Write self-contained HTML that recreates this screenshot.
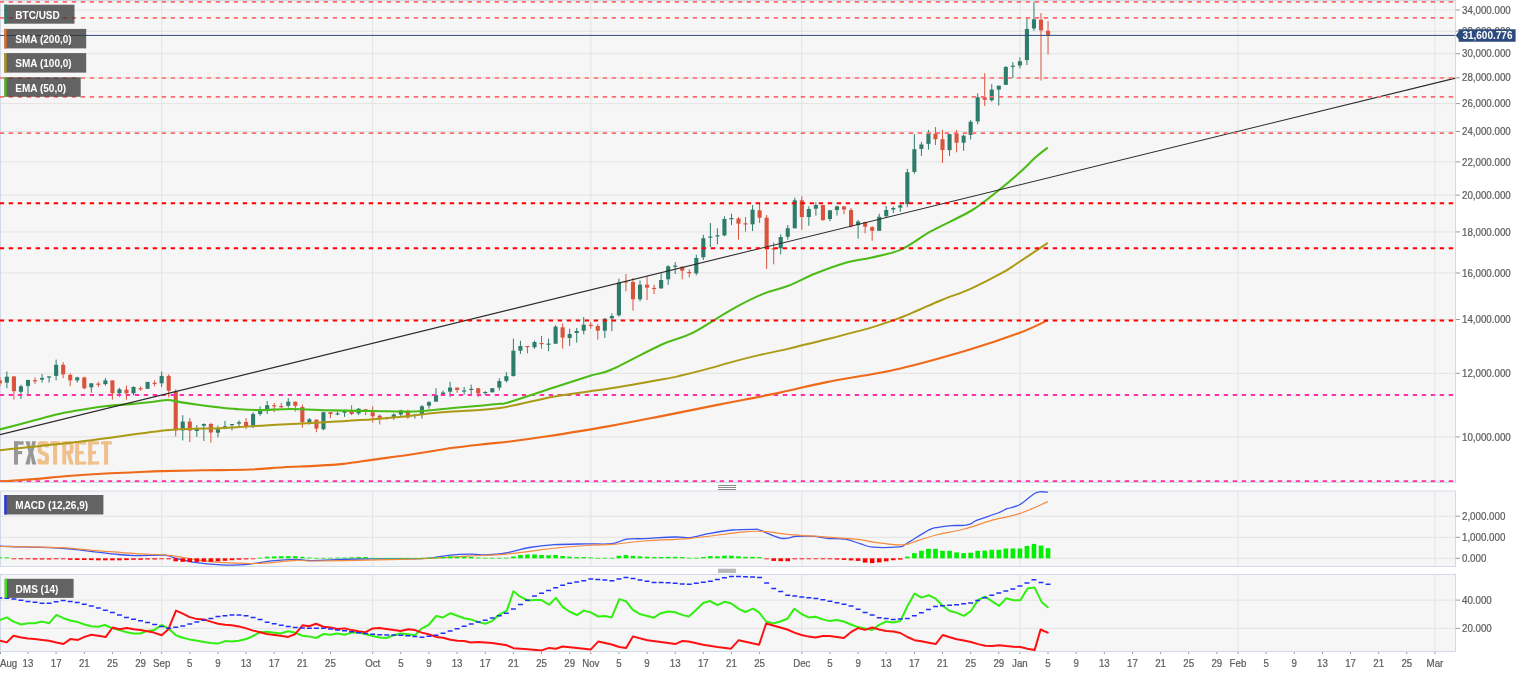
<!DOCTYPE html><html><head><meta charset="utf-8"><style>html,body{margin:0;padding:0;background:#fff;width:1536px;height:675px;overflow:hidden}svg{display:block;will-change:transform}text{font-family:"Liberation Sans", sans-serif}</style></head><body>
<svg width="1536" height="675" viewBox="0 0 1536 675">
<defs>
<clipPath id="cm"><rect x="0" y="0" width="1455.5" height="482"/></clipPath>
<clipPath id="cd"><rect x="0" y="491" width="1455.5" height="75.5"/></clipPath>
<clipPath id="cs"><rect x="0" y="574.5" width="1455.5" height="77"/></clipPath>
</defs>
<rect width="1536" height="675" fill="#fff"/>
<rect x="0.5" y="0.5" width="1455.0" height="482.0" fill="#f6f6f6" stroke="#d3dae7" stroke-width="1"/>
<line x1="161.7" y1="1.0" x2="161.7" y2="482.0" stroke="#e3e3e3" stroke-width="1"/>
<line x1="372.7" y1="1.0" x2="372.7" y2="482.0" stroke="#e3e3e3" stroke-width="1"/>
<line x1="590.8" y1="1.0" x2="590.8" y2="482.0" stroke="#e3e3e3" stroke-width="1"/>
<line x1="801.8" y1="1.0" x2="801.8" y2="482.0" stroke="#e3e3e3" stroke-width="1"/>
<line x1="1019.9" y1="1.0" x2="1019.9" y2="482.0" stroke="#e3e3e3" stroke-width="1"/>
<line x1="1238.0" y1="1.0" x2="1238.0" y2="482.0" stroke="#e3e3e3" stroke-width="1"/>
<line x1="1434.9" y1="1.0" x2="1434.9" y2="482.0" stroke="#e3e3e3" stroke-width="1"/>
<line x1="1" y1="10.0" x2="1455.0" y2="10.0" stroke="#e3e3e3" stroke-width="1"/>
<line x1="1" y1="31.2" x2="1455.0" y2="31.2" stroke="#e3e3e3" stroke-width="1"/>
<line x1="1" y1="53.7" x2="1455.0" y2="53.7" stroke="#e3e3e3" stroke-width="1"/>
<line x1="1" y1="77.8" x2="1455.0" y2="77.8" stroke="#e3e3e3" stroke-width="1"/>
<line x1="1" y1="103.6" x2="1455.0" y2="103.6" stroke="#e3e3e3" stroke-width="1"/>
<line x1="1" y1="131.5" x2="1455.0" y2="131.5" stroke="#e3e3e3" stroke-width="1"/>
<line x1="1" y1="161.9" x2="1455.0" y2="161.9" stroke="#e3e3e3" stroke-width="1"/>
<line x1="1" y1="195.1" x2="1455.0" y2="195.1" stroke="#e3e3e3" stroke-width="1"/>
<line x1="1" y1="231.9" x2="1455.0" y2="231.9" stroke="#e3e3e3" stroke-width="1"/>
<line x1="1" y1="273.0" x2="1455.0" y2="273.0" stroke="#e3e3e3" stroke-width="1"/>
<line x1="1" y1="319.5" x2="1455.0" y2="319.5" stroke="#e3e3e3" stroke-width="1"/>
<line x1="1" y1="373.3" x2="1455.0" y2="373.3" stroke="#e3e3e3" stroke-width="1"/>
<line x1="1" y1="436.9" x2="1455.0" y2="436.9" stroke="#e3e3e3" stroke-width="1"/>
<g clip-path="url(#cm)">
<rect x="14" y="441.3" width="4" height="23.30000000000001" fill="#979797"/>
<rect x="14" y="441.3" width="9.6" height="3.4" fill="#979797"/>
<rect x="14" y="451.0" width="8.2" height="3.2" fill="#979797"/>
<path d="M25.5,441.3 H29.8 L30.9,449.3 L32.0,441.3 H36.1 L33.1,452.6 L36.3,464.6 H32.0 L30.9,456.2 L29.8,464.6 H25.3 L28.6,452.6 Z" fill="#979797"/>
<path d="M46.9,447.6 V444.2 Q46.9,443.3 46.0,443.3 H40.5 Q39.6,443.3 39.6,444.2 V450.6 Q39.6,451.6 40.6,452.1 L46.0,454.6 Q46.9,455.1 46.9,456.1 V461.7 Q46.9,462.6 46.0,462.6 H40.5 Q39.6,462.6 39.6,461.7 V458.8" fill="none" stroke="#f0c08c" stroke-width="4" stroke-linejoin="round"/>
<rect x="50.3" y="441.3" width="10.0" height="3.4" fill="#f0c08c"/>
<rect x="53.1" y="441.3" width="4" height="23.30000000000001" fill="#f0c08c"/>
<rect x="62.3" y="441.3" width="3.9" height="23.30000000000001" fill="#f0c08c"/>
<path d="M64.2,443.2 H69.6 Q71.6,443.2 71.6,445.2 V450.4 Q71.6,452.4 69.6,452.4 H64.2" fill="none" stroke="#f0c08c" stroke-width="3.8"/>
<path d="M66.6,453.6 H70.4 L73.7,464.6 H69.7 Z" fill="#f0c08c"/>
<rect x="75.1" y="441.3" width="4" height="23.30000000000001" fill="#f0c08c"/>
<rect x="75.1" y="441.3" width="11.1" height="3.2" fill="#f0c08c"/>
<rect x="75.1" y="451.1" width="8.6" height="3.1" fill="#f0c08c"/>
<rect x="75.1" y="461.5" width="11.1" height="3.1" fill="#f0c08c"/>
<rect x="88.2" y="441.3" width="4" height="23.30000000000001" fill="#f0c08c"/>
<rect x="88.2" y="441.3" width="10.8" height="3.2" fill="#f0c08c"/>
<rect x="88.2" y="451.1" width="7.8" height="3.1" fill="#f0c08c"/>
<rect x="88.2" y="461.5" width="10.8" height="3.1" fill="#f0c08c"/>
<rect x="101" y="441.3" width="10.9" height="3.2" fill="#f0c08c"/>
<rect x="104.1" y="441.3" width="4" height="23.30000000000001" fill="#f0c08c"/>
<line x1="-0.15" y1="377.0" x2="-0.15" y2="386.0" stroke="#d9543c" stroke-width="1"/>
<rect x="-2.20" y="380.4" width="4.1" height="2.9" fill="#d9543c"/>
<line x1="6.88" y1="371.5" x2="6.88" y2="388.2" stroke="#2e7d6b" stroke-width="1"/>
<rect x="4.83" y="376.7" width="4.1" height="5.9" fill="#2e7d6b"/>
<line x1="13.92" y1="376.4" x2="13.92" y2="399.6" stroke="#d9543c" stroke-width="1"/>
<rect x="11.87" y="376.4" width="4.1" height="14.8" fill="#d9543c"/>
<line x1="20.95" y1="384.8" x2="20.95" y2="398.9" stroke="#2e7d6b" stroke-width="1"/>
<rect x="18.90" y="386.3" width="4.1" height="5.5" fill="#2e7d6b"/>
<line x1="27.99" y1="379.9" x2="27.99" y2="394.1" stroke="#2e7d6b" stroke-width="1"/>
<rect x="25.94" y="379.9" width="4.1" height="6.0" fill="#2e7d6b"/>
<line x1="35.02" y1="377.4" x2="35.02" y2="383.8" stroke="#d9543c" stroke-width="1"/>
<rect x="32.97" y="380.2" width="4.1" height="1.2" fill="#d9543c"/>
<line x1="42.06" y1="374.0" x2="42.06" y2="382.6" stroke="#2e7d6b" stroke-width="1"/>
<rect x="40.01" y="377.9" width="4.1" height="1.7" fill="#2e7d6b"/>
<line x1="49.09" y1="376.4" x2="49.09" y2="382.6" stroke="#2e7d6b" stroke-width="1"/>
<rect x="47.04" y="376.4" width="4.1" height="1.2" fill="#2e7d6b"/>
<line x1="56.13" y1="359.6" x2="56.13" y2="380.4" stroke="#2e7d6b" stroke-width="1"/>
<rect x="54.08" y="364.8" width="4.1" height="11.1" fill="#2e7d6b"/>
<line x1="63.16" y1="362.1" x2="63.16" y2="378.1" stroke="#d9543c" stroke-width="1"/>
<rect x="61.11" y="364.8" width="4.1" height="9.6" fill="#d9543c"/>
<line x1="70.20" y1="373.0" x2="70.20" y2="386.3" stroke="#d9543c" stroke-width="1"/>
<rect x="68.15" y="374.9" width="4.1" height="5.5" fill="#d9543c"/>
<line x1="77.23" y1="376.7" x2="77.23" y2="382.6" stroke="#2e7d6b" stroke-width="1"/>
<rect x="75.18" y="377.4" width="4.1" height="3.0" fill="#2e7d6b"/>
<line x1="84.27" y1="376.7" x2="84.27" y2="389.3" stroke="#d9543c" stroke-width="1"/>
<rect x="82.22" y="377.4" width="4.1" height="10.8" fill="#d9543c"/>
<line x1="91.30" y1="383.3" x2="91.30" y2="392.7" stroke="#2e7d6b" stroke-width="1"/>
<rect x="89.25" y="383.3" width="4.1" height="4.0" fill="#2e7d6b"/>
<line x1="98.34" y1="381.9" x2="98.34" y2="387.0" stroke="#d9543c" stroke-width="1"/>
<rect x="96.29" y="383.6" width="4.1" height="1.2" fill="#d9543c"/>
<line x1="105.37" y1="378.1" x2="105.37" y2="385.6" stroke="#2e7d6b" stroke-width="1"/>
<rect x="103.32" y="380.4" width="4.1" height="3.7" fill="#2e7d6b"/>
<line x1="112.41" y1="380.4" x2="112.41" y2="399.6" stroke="#d9543c" stroke-width="1"/>
<rect x="110.36" y="380.4" width="4.1" height="12.9" fill="#d9543c"/>
<line x1="119.44" y1="387.8" x2="119.44" y2="396.7" stroke="#2e7d6b" stroke-width="1"/>
<rect x="117.39" y="389.3" width="4.1" height="4.0" fill="#2e7d6b"/>
<line x1="126.48" y1="385.6" x2="126.48" y2="399.6" stroke="#d9543c" stroke-width="1"/>
<rect x="124.43" y="389.7" width="4.1" height="3.6" fill="#d9543c"/>
<line x1="133.51" y1="386.3" x2="133.51" y2="395.2" stroke="#2e7d6b" stroke-width="1"/>
<rect x="131.46" y="387.0" width="4.1" height="6.3" fill="#2e7d6b"/>
<line x1="140.55" y1="386.3" x2="140.55" y2="390.7" stroke="#d9543c" stroke-width="1"/>
<rect x="138.50" y="388.2" width="4.1" height="1.2" fill="#d9543c"/>
<line x1="147.58" y1="381.9" x2="147.58" y2="388.8" stroke="#2e7d6b" stroke-width="1"/>
<rect x="145.53" y="381.9" width="4.1" height="6.9" fill="#2e7d6b"/>
<line x1="154.62" y1="380.4" x2="154.62" y2="386.3" stroke="#d9543c" stroke-width="1"/>
<rect x="152.57" y="382.8" width="4.1" height="1.2" fill="#d9543c"/>
<line x1="161.65" y1="371.5" x2="161.65" y2="387.0" stroke="#2e7d6b" stroke-width="1"/>
<rect x="159.60" y="375.9" width="4.1" height="7.4" fill="#2e7d6b"/>
<line x1="168.69" y1="374.4" x2="168.69" y2="397.4" stroke="#d9543c" stroke-width="1"/>
<rect x="166.64" y="375.9" width="4.1" height="14.8" fill="#d9543c"/>
<line x1="175.72" y1="389.3" x2="175.72" y2="436.5" stroke="#d9543c" stroke-width="1"/>
<rect x="173.67" y="391.2" width="4.1" height="39.2" fill="#d9543c"/>
<line x1="182.75" y1="415.2" x2="182.75" y2="440.4" stroke="#2e7d6b" stroke-width="1"/>
<rect x="180.70" y="421.6" width="4.1" height="8.8" fill="#2e7d6b"/>
<line x1="189.79" y1="418.1" x2="189.79" y2="442.1" stroke="#d9543c" stroke-width="1"/>
<rect x="187.74" y="421.6" width="4.1" height="9.0" fill="#d9543c"/>
<line x1="196.82" y1="425.1" x2="196.82" y2="436.8" stroke="#2e7d6b" stroke-width="1"/>
<rect x="194.77" y="428.6" width="4.1" height="2.4" fill="#2e7d6b"/>
<line x1="203.86" y1="423.4" x2="203.86" y2="441.0" stroke="#2e7d6b" stroke-width="1"/>
<rect x="201.81" y="424.0" width="4.1" height="1.7" fill="#2e7d6b"/>
<line x1="210.89" y1="422.8" x2="210.89" y2="442.7" stroke="#d9543c" stroke-width="1"/>
<rect x="208.84" y="424.0" width="4.1" height="8.5" fill="#d9543c"/>
<line x1="217.93" y1="425.7" x2="217.93" y2="437.4" stroke="#2e7d6b" stroke-width="1"/>
<rect x="215.88" y="429.2" width="4.1" height="3.5" fill="#2e7d6b"/>
<line x1="224.96" y1="421.0" x2="224.96" y2="429.2" stroke="#2e7d6b" stroke-width="1"/>
<rect x="222.91" y="426.3" width="4.1" height="2.3" fill="#2e7d6b"/>
<line x1="232.00" y1="424.0" x2="232.00" y2="430.4" stroke="#2e7d6b" stroke-width="1"/>
<rect x="229.95" y="424.0" width="4.1" height="1.2" fill="#2e7d6b"/>
<line x1="239.03" y1="420.4" x2="239.03" y2="426.9" stroke="#2e7d6b" stroke-width="1"/>
<rect x="236.98" y="422.2" width="4.1" height="1.4" fill="#2e7d6b"/>
<line x1="246.07" y1="418.1" x2="246.07" y2="429.2" stroke="#d9543c" stroke-width="1"/>
<rect x="244.02" y="422.0" width="4.1" height="4.3" fill="#d9543c"/>
<line x1="253.10" y1="412.2" x2="253.10" y2="428.0" stroke="#2e7d6b" stroke-width="1"/>
<rect x="251.05" y="414.0" width="4.1" height="11.7" fill="#2e7d6b"/>
<line x1="260.14" y1="406.4" x2="260.14" y2="415.7" stroke="#2e7d6b" stroke-width="1"/>
<rect x="258.09" y="411.0" width="4.1" height="3.0" fill="#2e7d6b"/>
<line x1="267.17" y1="401.1" x2="267.17" y2="414.0" stroke="#2e7d6b" stroke-width="1"/>
<rect x="265.12" y="405.2" width="4.1" height="4.7" fill="#2e7d6b"/>
<line x1="274.21" y1="402.9" x2="274.21" y2="412.2" stroke="#d9543c" stroke-width="1"/>
<rect x="272.16" y="405.2" width="4.1" height="1.2" fill="#d9543c"/>
<line x1="281.24" y1="402.9" x2="281.24" y2="408.1" stroke="#d9543c" stroke-width="1"/>
<rect x="279.19" y="406.0" width="4.1" height="1.2" fill="#d9543c"/>
<line x1="288.28" y1="398.2" x2="288.28" y2="407.5" stroke="#2e7d6b" stroke-width="1"/>
<rect x="286.23" y="401.7" width="4.1" height="4.1" fill="#2e7d6b"/>
<line x1="295.31" y1="401.7" x2="295.31" y2="411.6" stroke="#d9543c" stroke-width="1"/>
<rect x="293.26" y="401.7" width="4.1" height="4.1" fill="#d9543c"/>
<line x1="302.35" y1="404.6" x2="302.35" y2="427.5" stroke="#d9543c" stroke-width="1"/>
<rect x="300.30" y="407.0" width="4.1" height="15.2" fill="#d9543c"/>
<line x1="309.38" y1="418.1" x2="309.38" y2="424.5" stroke="#2e7d6b" stroke-width="1"/>
<rect x="307.33" y="419.3" width="4.1" height="2.9" fill="#2e7d6b"/>
<line x1="316.42" y1="419.6" x2="316.42" y2="432.2" stroke="#d9543c" stroke-width="1"/>
<rect x="314.37" y="419.6" width="4.1" height="9.0" fill="#d9543c"/>
<line x1="323.45" y1="411.6" x2="323.45" y2="430.4" stroke="#2e7d6b" stroke-width="1"/>
<rect x="321.40" y="412.2" width="4.1" height="17.0" fill="#2e7d6b"/>
<line x1="330.49" y1="412.2" x2="330.49" y2="418.0" stroke="#d9543c" stroke-width="1"/>
<rect x="328.44" y="412.2" width="4.1" height="1.8" fill="#d9543c"/>
<line x1="337.52" y1="411.6" x2="337.52" y2="415.2" stroke="#2e7d6b" stroke-width="1"/>
<rect x="335.47" y="413.4" width="4.1" height="1.2" fill="#2e7d6b"/>
<line x1="344.56" y1="409.7" x2="344.56" y2="416.9" stroke="#2e7d6b" stroke-width="1"/>
<rect x="342.51" y="410.4" width="4.1" height="2.4" fill="#2e7d6b"/>
<line x1="351.59" y1="405.2" x2="351.59" y2="415.1" stroke="#d9543c" stroke-width="1"/>
<rect x="349.54" y="410.4" width="4.1" height="3.6" fill="#d9543c"/>
<line x1="358.62" y1="408.1" x2="358.62" y2="415.1" stroke="#2e7d6b" stroke-width="1"/>
<rect x="356.57" y="408.7" width="4.1" height="4.7" fill="#2e7d6b"/>
<line x1="365.66" y1="409.3" x2="365.66" y2="415.1" stroke="#d9543c" stroke-width="1"/>
<rect x="363.61" y="409.3" width="4.1" height="1.2" fill="#d9543c"/>
<line x1="372.69" y1="406.3" x2="372.69" y2="422.7" stroke="#d9543c" stroke-width="1"/>
<rect x="370.64" y="412.2" width="4.1" height="4.1" fill="#d9543c"/>
<line x1="379.73" y1="414.5" x2="379.73" y2="424.5" stroke="#d9543c" stroke-width="1"/>
<rect x="377.68" y="415.7" width="4.1" height="2.3" fill="#d9543c"/>
<line x1="386.76" y1="416.9" x2="386.76" y2="419.8" stroke="#d9543c" stroke-width="1"/>
<rect x="384.71" y="417.6" width="4.1" height="1.2" fill="#d9543c"/>
<line x1="393.80" y1="413.4" x2="393.80" y2="419.8" stroke="#2e7d6b" stroke-width="1"/>
<rect x="391.75" y="414.5" width="4.1" height="2.4" fill="#2e7d6b"/>
<line x1="400.83" y1="409.8" x2="400.83" y2="416.3" stroke="#2e7d6b" stroke-width="1"/>
<rect x="398.78" y="410.4" width="4.1" height="4.1" fill="#2e7d6b"/>
<line x1="407.87" y1="409.8" x2="407.87" y2="418.6" stroke="#d9543c" stroke-width="1"/>
<rect x="405.82" y="411.0" width="4.1" height="6.5" fill="#d9543c"/>
<line x1="414.90" y1="414.5" x2="414.90" y2="418.6" stroke="#2e7d6b" stroke-width="1"/>
<rect x="412.85" y="414.6" width="4.1" height="1.2" fill="#2e7d6b"/>
<line x1="421.94" y1="405.2" x2="421.94" y2="418.6" stroke="#2e7d6b" stroke-width="1"/>
<rect x="419.89" y="406.3" width="4.1" height="8.2" fill="#2e7d6b"/>
<line x1="428.97" y1="401.0" x2="428.97" y2="408.7" stroke="#2e7d6b" stroke-width="1"/>
<rect x="426.92" y="402.2" width="4.1" height="3.5" fill="#2e7d6b"/>
<line x1="436.01" y1="388.2" x2="436.01" y2="401.6" stroke="#2e7d6b" stroke-width="1"/>
<rect x="433.96" y="395.2" width="4.1" height="6.4" fill="#2e7d6b"/>
<line x1="443.04" y1="390.5" x2="443.04" y2="394.0" stroke="#2e7d6b" stroke-width="1"/>
<rect x="440.99" y="392.5" width="4.1" height="1.5" fill="#2e7d6b"/>
<line x1="450.08" y1="381.7" x2="450.08" y2="397.0" stroke="#2e7d6b" stroke-width="1"/>
<rect x="448.03" y="387.6" width="4.1" height="4.1" fill="#2e7d6b"/>
<line x1="457.11" y1="387.6" x2="457.11" y2="392.9" stroke="#d9543c" stroke-width="1"/>
<rect x="455.06" y="387.6" width="4.1" height="2.3" fill="#d9543c"/>
<line x1="464.15" y1="387.0" x2="464.15" y2="394.6" stroke="#2e7d6b" stroke-width="1"/>
<rect x="462.10" y="390.4" width="4.1" height="1.2" fill="#2e7d6b"/>
<line x1="471.18" y1="384.6" x2="471.18" y2="394.0" stroke="#2e7d6b" stroke-width="1"/>
<rect x="469.13" y="388.8" width="4.1" height="1.2" fill="#2e7d6b"/>
<line x1="478.22" y1="388.2" x2="478.22" y2="397.0" stroke="#d9543c" stroke-width="1"/>
<rect x="476.17" y="388.2" width="4.1" height="5.2" fill="#d9543c"/>
<line x1="485.25" y1="391.1" x2="485.25" y2="395.2" stroke="#2e7d6b" stroke-width="1"/>
<rect x="483.20" y="392.0" width="4.1" height="1.2" fill="#2e7d6b"/>
<line x1="492.29" y1="388.2" x2="492.29" y2="392.3" stroke="#2e7d6b" stroke-width="1"/>
<rect x="490.24" y="388.2" width="4.1" height="4.1" fill="#2e7d6b"/>
<line x1="499.32" y1="378.2" x2="499.32" y2="390.5" stroke="#2e7d6b" stroke-width="1"/>
<rect x="497.27" y="381.1" width="4.1" height="6.5" fill="#2e7d6b"/>
<line x1="506.36" y1="372.2" x2="506.36" y2="382.5" stroke="#2e7d6b" stroke-width="1"/>
<rect x="504.31" y="376.2" width="4.1" height="4.7" fill="#2e7d6b"/>
<line x1="513.39" y1="338.7" x2="513.39" y2="376.7" stroke="#2e7d6b" stroke-width="1"/>
<rect x="511.34" y="350.7" width="4.1" height="25.3" fill="#2e7d6b"/>
<line x1="520.43" y1="340.7" x2="520.43" y2="354.0" stroke="#2e7d6b" stroke-width="1"/>
<rect x="518.38" y="346.0" width="4.1" height="4.7" fill="#2e7d6b"/>
<line x1="527.46" y1="346.0" x2="527.46" y2="353.3" stroke="#d9543c" stroke-width="1"/>
<rect x="525.41" y="346.0" width="4.1" height="1.2" fill="#d9543c"/>
<line x1="534.49" y1="340.7" x2="534.49" y2="348.7" stroke="#2e7d6b" stroke-width="1"/>
<rect x="532.44" y="342.0" width="4.1" height="5.3" fill="#2e7d6b"/>
<line x1="541.53" y1="336.0" x2="541.53" y2="348.7" stroke="#d9543c" stroke-width="1"/>
<rect x="539.48" y="343.0" width="4.1" height="1.2" fill="#d9543c"/>
<line x1="548.56" y1="338.7" x2="548.56" y2="351.3" stroke="#2e7d6b" stroke-width="1"/>
<rect x="546.51" y="343.6" width="4.1" height="1.2" fill="#2e7d6b"/>
<line x1="555.60" y1="325.1" x2="555.60" y2="343.7" stroke="#2e7d6b" stroke-width="1"/>
<rect x="553.55" y="326.7" width="4.1" height="17.0" fill="#2e7d6b"/>
<line x1="562.63" y1="323.3" x2="562.63" y2="348.7" stroke="#d9543c" stroke-width="1"/>
<rect x="560.58" y="327.3" width="4.1" height="10.3" fill="#d9543c"/>
<line x1="569.67" y1="328.7" x2="569.67" y2="346.0" stroke="#2e7d6b" stroke-width="1"/>
<rect x="567.62" y="334.0" width="4.1" height="4.0" fill="#2e7d6b"/>
<line x1="576.70" y1="328.0" x2="576.70" y2="342.7" stroke="#2e7d6b" stroke-width="1"/>
<rect x="574.65" y="331.0" width="4.1" height="2.0" fill="#2e7d6b"/>
<line x1="583.74" y1="317.0" x2="583.74" y2="334.4" stroke="#2e7d6b" stroke-width="1"/>
<rect x="581.69" y="324.7" width="4.1" height="6.0" fill="#2e7d6b"/>
<line x1="590.77" y1="322.0" x2="590.77" y2="328.7" stroke="#d9543c" stroke-width="1"/>
<rect x="588.72" y="324.7" width="4.1" height="1.2" fill="#d9543c"/>
<line x1="597.81" y1="324.0" x2="597.81" y2="339.7" stroke="#d9543c" stroke-width="1"/>
<rect x="595.76" y="326.0" width="4.1" height="4.7" fill="#d9543c"/>
<line x1="604.84" y1="318.0" x2="604.84" y2="338.0" stroke="#2e7d6b" stroke-width="1"/>
<rect x="602.79" y="318.7" width="4.1" height="12.0" fill="#2e7d6b"/>
<line x1="611.88" y1="313.3" x2="611.88" y2="331.3" stroke="#2e7d6b" stroke-width="1"/>
<rect x="609.83" y="316.0" width="4.1" height="2.4" fill="#2e7d6b"/>
<line x1="618.91" y1="278.7" x2="618.91" y2="316.7" stroke="#2e7d6b" stroke-width="1"/>
<rect x="616.86" y="282.7" width="4.1" height="32.6" fill="#2e7d6b"/>
<line x1="625.95" y1="274.0" x2="625.95" y2="291.3" stroke="#d9543c" stroke-width="1"/>
<rect x="623.90" y="281.3" width="4.1" height="1.2" fill="#d9543c"/>
<line x1="632.98" y1="278.0" x2="632.98" y2="310.7" stroke="#d9543c" stroke-width="1"/>
<rect x="630.93" y="282.0" width="4.1" height="17.3" fill="#d9543c"/>
<line x1="640.02" y1="280.4" x2="640.02" y2="301.3" stroke="#2e7d6b" stroke-width="1"/>
<rect x="637.97" y="284.7" width="4.1" height="14.6" fill="#2e7d6b"/>
<line x1="647.05" y1="276.7" x2="647.05" y2="300.0" stroke="#d9543c" stroke-width="1"/>
<rect x="645.00" y="284.7" width="4.1" height="2.9" fill="#d9543c"/>
<line x1="654.09" y1="284.7" x2="654.09" y2="294.0" stroke="#d9543c" stroke-width="1"/>
<rect x="652.04" y="287.9" width="4.1" height="1.2" fill="#d9543c"/>
<line x1="661.12" y1="273.3" x2="661.12" y2="288.7" stroke="#2e7d6b" stroke-width="1"/>
<rect x="659.07" y="280.0" width="4.1" height="8.4" fill="#2e7d6b"/>
<line x1="668.16" y1="265.3" x2="668.16" y2="284.7" stroke="#2e7d6b" stroke-width="1"/>
<rect x="666.11" y="266.3" width="4.1" height="13.0" fill="#2e7d6b"/>
<line x1="675.19" y1="262.0" x2="675.19" y2="274.0" stroke="#2e7d6b" stroke-width="1"/>
<rect x="673.14" y="265.6" width="4.1" height="1.2" fill="#2e7d6b"/>
<line x1="682.23" y1="266.7" x2="682.23" y2="279.3" stroke="#d9543c" stroke-width="1"/>
<rect x="680.18" y="266.7" width="4.1" height="4.0" fill="#d9543c"/>
<line x1="689.26" y1="269.3" x2="689.26" y2="277.3" stroke="#d9543c" stroke-width="1"/>
<rect x="687.21" y="272.0" width="4.1" height="1.2" fill="#d9543c"/>
<line x1="696.30" y1="254.7" x2="696.30" y2="275.3" stroke="#2e7d6b" stroke-width="1"/>
<rect x="694.25" y="258.0" width="4.1" height="15.3" fill="#2e7d6b"/>
<line x1="703.33" y1="234.7" x2="703.33" y2="260.0" stroke="#2e7d6b" stroke-width="1"/>
<rect x="701.28" y="238.3" width="4.1" height="19.0" fill="#2e7d6b"/>
<line x1="710.36" y1="223.0" x2="710.36" y2="247.0" stroke="#2e7d6b" stroke-width="1"/>
<rect x="708.31" y="236.5" width="4.1" height="1.2" fill="#2e7d6b"/>
<line x1="717.40" y1="228.3" x2="717.40" y2="244.3" stroke="#2e7d6b" stroke-width="1"/>
<rect x="715.35" y="235.3" width="4.1" height="1.2" fill="#2e7d6b"/>
<line x1="724.43" y1="216.3" x2="724.43" y2="236.3" stroke="#2e7d6b" stroke-width="1"/>
<rect x="722.38" y="219.0" width="4.1" height="16.4" fill="#2e7d6b"/>
<line x1="731.47" y1="213.7" x2="731.47" y2="225.0" stroke="#2e7d6b" stroke-width="1"/>
<rect x="729.42" y="218.0" width="4.1" height="1.2" fill="#2e7d6b"/>
<line x1="738.50" y1="217.0" x2="738.50" y2="239.7" stroke="#d9543c" stroke-width="1"/>
<rect x="736.45" y="218.6" width="4.1" height="5.1" fill="#d9543c"/>
<line x1="745.54" y1="217.0" x2="745.54" y2="231.7" stroke="#d9543c" stroke-width="1"/>
<rect x="743.49" y="223.3" width="4.1" height="1.2" fill="#d9543c"/>
<line x1="752.57" y1="205.0" x2="752.57" y2="231.0" stroke="#2e7d6b" stroke-width="1"/>
<rect x="750.52" y="209.7" width="4.1" height="14.6" fill="#2e7d6b"/>
<line x1="759.61" y1="203.7" x2="759.61" y2="223.0" stroke="#d9543c" stroke-width="1"/>
<rect x="757.56" y="210.3" width="4.1" height="7.4" fill="#d9543c"/>
<line x1="766.64" y1="215.0" x2="766.64" y2="269.0" stroke="#d9543c" stroke-width="1"/>
<rect x="764.59" y="217.7" width="4.1" height="30.0" fill="#d9543c"/>
<line x1="773.68" y1="242.3" x2="773.68" y2="264.3" stroke="#d9543c" stroke-width="1"/>
<rect x="771.63" y="248.3" width="4.1" height="1.2" fill="#d9543c"/>
<line x1="780.71" y1="234.3" x2="780.71" y2="254.3" stroke="#2e7d6b" stroke-width="1"/>
<rect x="778.66" y="237.0" width="4.1" height="11.3" fill="#2e7d6b"/>
<line x1="787.75" y1="225.0" x2="787.75" y2="239.7" stroke="#2e7d6b" stroke-width="1"/>
<rect x="785.70" y="228.3" width="4.1" height="8.4" fill="#2e7d6b"/>
<line x1="794.78" y1="197.7" x2="794.78" y2="228.3" stroke="#2e7d6b" stroke-width="1"/>
<rect x="792.73" y="200.3" width="4.1" height="28.0" fill="#2e7d6b"/>
<line x1="801.82" y1="196.3" x2="801.82" y2="229.7" stroke="#d9543c" stroke-width="1"/>
<rect x="799.77" y="200.3" width="4.1" height="16.7" fill="#d9543c"/>
<line x1="808.85" y1="206.3" x2="808.85" y2="225.7" stroke="#2e7d6b" stroke-width="1"/>
<rect x="806.80" y="209.0" width="4.1" height="8.0" fill="#2e7d6b"/>
<line x1="815.89" y1="202.3" x2="815.89" y2="215.7" stroke="#2e7d6b" stroke-width="1"/>
<rect x="813.84" y="205.0" width="4.1" height="3.7" fill="#2e7d6b"/>
<line x1="822.92" y1="205.0" x2="822.92" y2="221.0" stroke="#d9543c" stroke-width="1"/>
<rect x="820.87" y="205.0" width="4.1" height="15.0" fill="#d9543c"/>
<line x1="829.96" y1="210.3" x2="829.96" y2="221.3" stroke="#2e7d6b" stroke-width="1"/>
<rect x="827.91" y="210.3" width="4.1" height="8.7" fill="#2e7d6b"/>
<line x1="836.99" y1="205.7" x2="836.99" y2="215.5" stroke="#2e7d6b" stroke-width="1"/>
<rect x="834.94" y="206.4" width="4.1" height="3.6" fill="#2e7d6b"/>
<line x1="844.03" y1="206.4" x2="844.03" y2="214.2" stroke="#d9543c" stroke-width="1"/>
<rect x="841.98" y="206.4" width="4.1" height="3.1" fill="#d9543c"/>
<line x1="851.06" y1="208.0" x2="851.06" y2="227.7" stroke="#d9543c" stroke-width="1"/>
<rect x="849.01" y="210.0" width="4.1" height="16.1" fill="#d9543c"/>
<line x1="858.10" y1="220.0" x2="858.10" y2="238.6" stroke="#2e7d6b" stroke-width="1"/>
<rect x="856.05" y="221.5" width="4.1" height="3.6" fill="#2e7d6b"/>
<line x1="865.13" y1="221.5" x2="865.13" y2="233.4" stroke="#d9543c" stroke-width="1"/>
<rect x="863.08" y="222.0" width="4.1" height="4.7" fill="#d9543c"/>
<line x1="872.17" y1="226.1" x2="872.17" y2="240.7" stroke="#d9543c" stroke-width="1"/>
<rect x="870.12" y="227.2" width="4.1" height="3.6" fill="#d9543c"/>
<line x1="879.20" y1="213.7" x2="879.20" y2="230.8" stroke="#2e7d6b" stroke-width="1"/>
<rect x="877.15" y="216.8" width="4.1" height="14.0" fill="#2e7d6b"/>
<line x1="886.23" y1="206.0" x2="886.23" y2="216.8" stroke="#2e7d6b" stroke-width="1"/>
<rect x="884.18" y="210.0" width="4.1" height="6.3" fill="#2e7d6b"/>
<line x1="893.27" y1="206.4" x2="893.27" y2="213.2" stroke="#2e7d6b" stroke-width="1"/>
<rect x="891.22" y="208.0" width="4.1" height="1.5" fill="#2e7d6b"/>
<line x1="900.30" y1="204.4" x2="900.30" y2="211.8" stroke="#2e7d6b" stroke-width="1"/>
<rect x="898.25" y="205.3" width="4.1" height="2.3" fill="#2e7d6b"/>
<line x1="907.34" y1="168.8" x2="907.34" y2="207.2" stroke="#2e7d6b" stroke-width="1"/>
<rect x="905.29" y="172.2" width="4.1" height="31.9" fill="#2e7d6b"/>
<line x1="914.37" y1="134.1" x2="914.37" y2="173.8" stroke="#2e7d6b" stroke-width="1"/>
<rect x="912.32" y="149.2" width="4.1" height="22.7" fill="#2e7d6b"/>
<line x1="921.41" y1="141.9" x2="921.41" y2="155.9" stroke="#2e7d6b" stroke-width="1"/>
<rect x="919.36" y="144.5" width="4.1" height="4.4" fill="#2e7d6b"/>
<line x1="928.44" y1="129.9" x2="928.44" y2="149.7" stroke="#2e7d6b" stroke-width="1"/>
<rect x="926.39" y="133.6" width="4.1" height="10.3" fill="#2e7d6b"/>
<line x1="935.48" y1="127.1" x2="935.48" y2="145.0" stroke="#d9543c" stroke-width="1"/>
<rect x="933.43" y="133.6" width="4.1" height="5.6" fill="#d9543c"/>
<line x1="942.51" y1="129.9" x2="942.51" y2="162.9" stroke="#d9543c" stroke-width="1"/>
<rect x="940.46" y="139.2" width="4.1" height="10.9" fill="#d9543c"/>
<line x1="949.55" y1="134.1" x2="949.55" y2="155.9" stroke="#2e7d6b" stroke-width="1"/>
<rect x="947.50" y="134.1" width="4.1" height="16.0" fill="#2e7d6b"/>
<line x1="956.58" y1="129.9" x2="956.58" y2="152.3" stroke="#d9543c" stroke-width="1"/>
<rect x="954.53" y="133.3" width="4.1" height="9.4" fill="#d9543c"/>
<line x1="963.62" y1="134.6" x2="963.62" y2="150.8" stroke="#2e7d6b" stroke-width="1"/>
<rect x="961.57" y="135.7" width="4.1" height="7.0" fill="#2e7d6b"/>
<line x1="970.65" y1="120.1" x2="970.65" y2="139.6" stroke="#2e7d6b" stroke-width="1"/>
<rect x="968.60" y="121.7" width="4.1" height="13.2" fill="#2e7d6b"/>
<line x1="977.69" y1="93.4" x2="977.69" y2="124.3" stroke="#2e7d6b" stroke-width="1"/>
<rect x="975.64" y="97.3" width="4.1" height="24.1" fill="#2e7d6b"/>
<line x1="984.72" y1="73.2" x2="984.72" y2="106.0" stroke="#d9543c" stroke-width="1"/>
<rect x="982.67" y="97.3" width="4.1" height="2.5" fill="#d9543c"/>
<line x1="991.76" y1="84.2" x2="991.76" y2="101.7" stroke="#2e7d6b" stroke-width="1"/>
<rect x="989.71" y="89.6" width="4.1" height="10.6" fill="#2e7d6b"/>
<line x1="998.79" y1="85.7" x2="998.79" y2="105.6" stroke="#2e7d6b" stroke-width="1"/>
<rect x="996.74" y="85.7" width="4.1" height="3.9" fill="#2e7d6b"/>
<line x1="1005.83" y1="66.0" x2="1005.83" y2="85.0" stroke="#2e7d6b" stroke-width="1"/>
<rect x="1003.78" y="67.0" width="4.1" height="17.8" fill="#2e7d6b"/>
<line x1="1012.86" y1="62.0" x2="1012.86" y2="78.0" stroke="#2e7d6b" stroke-width="1"/>
<rect x="1010.81" y="65.7" width="4.1" height="1.2" fill="#2e7d6b"/>
<line x1="1019.90" y1="57.4" x2="1019.90" y2="68.4" stroke="#2e7d6b" stroke-width="1"/>
<rect x="1017.85" y="61.3" width="4.1" height="4.2" fill="#2e7d6b"/>
<line x1="1026.93" y1="17.7" x2="1026.93" y2="65.1" stroke="#2e7d6b" stroke-width="1"/>
<rect x="1024.88" y="28.9" width="4.1" height="31.2" fill="#2e7d6b"/>
<line x1="1033.97" y1="1.9" x2="1033.97" y2="30.8" stroke="#2e7d6b" stroke-width="1"/>
<rect x="1031.92" y="19.3" width="4.1" height="9.2" fill="#2e7d6b"/>
<line x1="1041.00" y1="13.1" x2="1041.00" y2="80.5" stroke="#d9543c" stroke-width="1"/>
<rect x="1038.95" y="19.7" width="4.1" height="10.7" fill="#d9543c"/>
<line x1="1048.04" y1="21.2" x2="1048.04" y2="54.3" stroke="#d9543c" stroke-width="1"/>
<rect x="1045.99" y="30.8" width="4.1" height="4.4" fill="#d9543c"/>
<line x1="-0.3" y1="395" x2="1455.5" y2="395" stroke="#ff30a8" stroke-width="2" stroke-dasharray="4.4 4.6"/>
<line x1="-0.3" y1="481.3" x2="1455.5" y2="481.3" stroke="#ff30a8" stroke-width="2" stroke-dasharray="4.4 4.6"/>
<path d="M0.00,481.60 C5.65,481.18 22.62,480.03 33.90,479.10 C45.18,478.17 56.42,476.90 67.70,476.00 C78.98,475.10 90.32,474.32 101.60,473.70 C112.88,473.08 125.53,472.73 135.40,472.30 C145.27,471.87 149.52,471.43 160.80,471.10 C172.08,470.77 188.23,470.57 203.10,470.30 C217.97,470.03 236.53,470.02 250.00,469.50 C263.47,468.98 273.18,467.80 283.90,467.20 C294.62,466.60 304.43,466.45 314.30,465.90 C324.17,465.35 333.22,464.95 343.10,463.90 C352.98,462.85 362.32,461.17 373.60,459.60 C384.88,458.03 397.55,456.47 410.80,454.50 C424.05,452.53 440.40,449.57 453.10,447.80 C465.80,446.03 477.52,444.95 487.00,443.90 C496.48,442.85 500.23,442.73 510.00,441.50 C519.77,440.27 529.03,439.07 545.60,436.50 C562.17,433.93 589.67,429.58 609.40,426.10 C629.13,422.62 645.78,419.18 664.00,415.60 C682.22,412.02 699.37,408.43 718.70,404.60 C738.03,400.77 762.02,396.35 780.00,392.60 C797.98,388.85 806.87,386.05 826.60,382.10 C846.33,378.15 874.80,374.25 898.40,368.90 C922.00,363.55 948.07,355.98 968.20,350.00 C988.33,344.02 1006.07,337.90 1019.20,333.00 C1032.33,328.10 1042.37,322.67 1047.00,320.60" fill="none" stroke="#ee6a1a" stroke-width="2.1" stroke-linejoin="round" stroke-linecap="round" />
<path d="M0.00,450.30 C14.10,448.75 56.38,444.38 84.60,441.00 C112.82,437.62 146.73,432.13 169.30,430.00 C191.87,427.87 204.88,428.92 220.00,428.20 C235.12,427.48 234.50,427.20 260.00,425.70 C285.50,424.20 342.70,421.43 373.00,419.20 C403.30,416.97 420.63,414.18 441.80,412.30 C462.97,410.42 481.18,410.55 500.00,407.90 C518.82,405.25 536.47,399.62 554.70,396.40 C572.93,393.18 591.18,391.48 609.40,388.60 C627.62,385.72 652.23,381.23 664.00,379.10 C675.77,376.97 672.88,377.47 680.00,375.80 C687.12,374.13 697.82,371.47 706.70,369.10 C715.58,366.73 724.42,363.97 733.30,361.60 C742.18,359.23 751.10,356.98 760.00,354.90 C768.90,352.82 780.03,350.62 786.70,349.10 C793.37,347.58 794.28,347.18 800.00,345.80 C805.72,344.42 809.02,343.87 821.00,340.80 C832.98,337.73 858.37,331.37 871.90,327.40 C885.43,323.43 894.40,319.90 902.20,317.00 C910.00,314.10 912.10,312.83 918.70,310.00 C925.30,307.17 932.98,303.62 941.80,300.00 C950.62,296.38 961.50,292.85 971.60,288.30 C981.70,283.75 994.85,276.83 1002.40,272.70 C1009.95,268.57 1009.45,268.40 1016.90,263.50 C1024.35,258.60 1042.07,246.67 1047.10,243.30" fill="none" stroke="#ab9a16" stroke-width="2.0" stroke-linejoin="round" stroke-linecap="round" />
<path d="M0.00,429.40 C5.00,428.08 20.00,424.10 30.00,421.50 C40.00,418.90 51.10,415.80 60.00,413.80 C68.90,411.80 75.58,410.80 83.40,409.50 C91.22,408.20 99.08,406.90 106.90,406.00 C114.72,405.10 122.48,404.82 130.30,404.10 C138.12,403.38 147.55,402.38 153.80,401.70 C160.05,401.02 163.43,399.93 167.80,400.00 C172.17,400.07 175.30,401.35 180.00,402.10 C184.70,402.85 189.88,403.67 196.00,404.50 C202.12,405.33 209.87,406.33 216.70,407.10 C223.53,407.87 229.78,408.60 237.00,409.10 C244.22,409.60 251.00,410.12 260.00,410.10 C269.00,410.08 279.00,408.95 291.00,409.00 C303.00,409.05 318.33,410.07 332.00,410.40 C345.67,410.73 359.27,410.82 373.00,411.00 C386.73,411.18 400.65,412.05 414.40,411.50 C428.15,410.95 444.08,408.70 455.50,407.70 C466.92,406.70 475.48,406.17 482.90,405.50 C490.32,404.83 495.93,404.15 500.00,403.70 C504.07,403.25 499.10,405.23 507.30,402.80 C515.50,400.37 535.23,393.65 549.20,389.10 C563.17,384.55 580.68,378.77 591.10,375.50 C601.52,372.23 599.92,374.67 611.70,369.50 C623.48,364.33 648.32,350.60 661.80,344.50 C675.28,338.40 681.05,338.68 692.60,332.90 C704.15,327.12 719.55,316.22 731.10,309.80 C742.65,303.38 752.48,298.35 761.90,294.40 C771.32,290.45 778.68,289.58 787.60,286.10 C796.52,282.62 805.73,277.40 815.40,273.50 C825.07,269.60 836.37,265.33 845.60,262.70 C854.83,260.07 861.57,259.88 870.80,257.70 C880.03,255.52 890.93,254.02 901.00,249.60 C911.07,245.18 919.43,237.72 931.20,231.20 C942.97,224.68 960.67,217.08 971.60,210.50 C982.53,203.92 988.83,197.98 996.80,191.70 C1004.77,185.42 1012.93,178.53 1019.40,172.80 C1025.87,167.07 1030.98,161.42 1035.60,157.30 C1040.22,153.18 1045.18,149.63 1047.10,148.10" fill="none" stroke="#4cbb17" stroke-width="2.1" stroke-linejoin="round" stroke-linecap="round" />
<line x1="0" y1="434.6" x2="1455.5" y2="78.1" stroke="#2a2a2a" stroke-width="1.1"/>
<line x1="-0.3" y1="1.9" x2="1455.5" y2="1.9" stroke="#ff6a6a" stroke-width="1.6" stroke-dasharray="4.4 4.6"/>
<line x1="-0.3" y1="17.9" x2="1455.5" y2="17.9" stroke="#ff6a6a" stroke-width="1.6" stroke-dasharray="4.4 4.6"/>
<line x1="-0.3" y1="78" x2="1455.5" y2="78" stroke="#ff6a6a" stroke-width="1.6" stroke-dasharray="4.4 4.6"/>
<line x1="-0.3" y1="96.9" x2="1455.5" y2="96.9" stroke="#ff6a6a" stroke-width="1.6" stroke-dasharray="4.4 4.6"/>
<line x1="-0.3" y1="133.1" x2="1455.5" y2="133.1" stroke="#ff6a6a" stroke-width="1.6" stroke-dasharray="4.4 4.6"/>
<line x1="-0.3" y1="203.3" x2="1455.5" y2="203.3" stroke="#ff0000" stroke-width="2" stroke-dasharray="4.4 4.6"/>
<line x1="-0.3" y1="248.3" x2="1455.5" y2="248.3" stroke="#ff0000" stroke-width="2" stroke-dasharray="4.4 4.6"/>
<line x1="-0.3" y1="320.4" x2="1455.5" y2="320.4" stroke="#ff0000" stroke-width="2" stroke-dasharray="4.4 4.6"/>
<line x1="0" y1="35.4" x2="1455.5" y2="35.4" stroke="#2d4b7d" stroke-width="1"/>
</g>
<rect x="4.4" y="4.7" width="70.1" height="19" fill="rgba(52,52,52,0.76)"/>
<rect x="4.4" y="4.7" width="2.2" height="19" fill="#2a7c6c"/>
<text x="15.3" y="19.0" font-size="10" font-weight="bold" fill="#fff">BTC/USD</text>
<rect x="4.4" y="28.9" width="81.8" height="19.5" fill="rgba(52,52,52,0.76)"/>
<rect x="4.4" y="28.9" width="2.2" height="19.5" fill="#ee6a1a"/>
<text x="15.3" y="43.2" font-size="10" font-weight="bold" fill="#fff">SMA (200,0)</text>
<rect x="4.4" y="53.1" width="81.8" height="19.5" fill="rgba(52,52,52,0.76)"/>
<rect x="4.4" y="53.1" width="2.2" height="19.5" fill="#b09410"/>
<text x="15.3" y="67.4" font-size="10" font-weight="bold" fill="#fff">SMA (100,0)</text>
<rect x="4.4" y="77.3" width="76.3" height="19.5" fill="rgba(52,52,52,0.76)"/>
<rect x="4.4" y="77.3" width="2.2" height="19.5" fill="#4cbb17"/>
<text x="15.3" y="91.6" font-size="10" font-weight="bold" fill="#fff">EMA (50,0)</text>
<line x1="1456.0" y1="10.0" x2="1460" y2="10.0" stroke="#999" stroke-width="1"/>
<text transform="translate(1462,13.75) scale(1,1.07)" font-size="9.75" fill="#5e5e5e" stroke="#5e5e5e" stroke-width="0.22">34,000.000</text>
<line x1="1456.0" y1="31.2" x2="1460" y2="31.2" stroke="#999" stroke-width="1"/>
<text transform="translate(1462,34.89) scale(1,1.07)" font-size="9.75" fill="#5e5e5e" stroke="#5e5e5e" stroke-width="0.22">32,000.000</text>
<line x1="1456.0" y1="53.7" x2="1460" y2="53.7" stroke="#999" stroke-width="1"/>
<text transform="translate(1462,57.40) scale(1,1.07)" font-size="9.75" fill="#5e5e5e" stroke="#5e5e5e" stroke-width="0.22">30,000.000</text>
<line x1="1456.0" y1="77.8" x2="1460" y2="77.8" stroke="#999" stroke-width="1"/>
<text transform="translate(1462,81.47) scale(1,1.07)" font-size="9.75" fill="#5e5e5e" stroke="#5e5e5e" stroke-width="0.22">28,000.000</text>
<line x1="1456.0" y1="103.6" x2="1460" y2="103.6" stroke="#999" stroke-width="1"/>
<text transform="translate(1462,107.32) scale(1,1.07)" font-size="9.75" fill="#5e5e5e" stroke="#5e5e5e" stroke-width="0.22">26,000.000</text>
<line x1="1456.0" y1="131.5" x2="1460" y2="131.5" stroke="#999" stroke-width="1"/>
<text transform="translate(1462,135.24) scale(1,1.07)" font-size="9.75" fill="#5e5e5e" stroke="#5e5e5e" stroke-width="0.22">24,000.000</text>
<line x1="1456.0" y1="161.9" x2="1460" y2="161.9" stroke="#999" stroke-width="1"/>
<text transform="translate(1462,165.59) scale(1,1.07)" font-size="9.75" fill="#5e5e5e" stroke="#5e5e5e" stroke-width="0.22">22,000.000</text>
<line x1="1456.0" y1="195.1" x2="1460" y2="195.1" stroke="#999" stroke-width="1"/>
<text transform="translate(1462,198.83) scale(1,1.07)" font-size="9.75" fill="#5e5e5e" stroke="#5e5e5e" stroke-width="0.22">20,000.000</text>
<line x1="1456.0" y1="231.9" x2="1460" y2="231.9" stroke="#999" stroke-width="1"/>
<text transform="translate(1462,235.58) scale(1,1.07)" font-size="9.75" fill="#5e5e5e" stroke="#5e5e5e" stroke-width="0.22">18,000.000</text>
<line x1="1456.0" y1="273.0" x2="1460" y2="273.0" stroke="#999" stroke-width="1"/>
<text transform="translate(1462,276.66) scale(1,1.07)" font-size="9.75" fill="#5e5e5e" stroke="#5e5e5e" stroke-width="0.22">16,000.000</text>
<line x1="1456.0" y1="319.5" x2="1460" y2="319.5" stroke="#999" stroke-width="1"/>
<text transform="translate(1462,323.24) scale(1,1.07)" font-size="9.75" fill="#5e5e5e" stroke="#5e5e5e" stroke-width="0.22">14,000.000</text>
<line x1="1456.0" y1="373.3" x2="1460" y2="373.3" stroke="#999" stroke-width="1"/>
<text transform="translate(1462,377.01) scale(1,1.07)" font-size="9.75" fill="#5e5e5e" stroke="#5e5e5e" stroke-width="0.22">12,000.000</text>
<line x1="1456.0" y1="436.9" x2="1460" y2="436.9" stroke="#999" stroke-width="1"/>
<text transform="translate(1462,440.60) scale(1,1.07)" font-size="9.75" fill="#5e5e5e" stroke="#5e5e5e" stroke-width="0.22">10,000.000</text>
<path d="M1455.8,35.4 L1458.6,31.8 L1458.6,29.2 L1515.6,29.2 L1515.6,41.8 L1458.6,41.8 L1458.6,39 Z" fill="#2c4a7c"/>
<text x="1462.4" y="39.1" font-size="10" font-weight="bold" fill="#fff">31,600.776</text>
<line x1="718" y1="485.5" x2="736" y2="485.5" stroke="#8a8a8a" stroke-width="1"/>
<line x1="718" y1="487.5" x2="736" y2="487.5" stroke="#8a8a8a" stroke-width="1"/>
<line x1="718" y1="489.5" x2="736" y2="489.5" stroke="#8a8a8a" stroke-width="1"/>
<rect x="0.5" y="491" width="1455.0" height="75.5" fill="#f6f6f6" stroke="#d3dae7" stroke-width="1"/>
<line x1="161.7" y1="491.5" x2="161.7" y2="566.0" stroke="#e3e3e3" stroke-width="1"/>
<line x1="372.7" y1="491.5" x2="372.7" y2="566.0" stroke="#e3e3e3" stroke-width="1"/>
<line x1="590.8" y1="491.5" x2="590.8" y2="566.0" stroke="#e3e3e3" stroke-width="1"/>
<line x1="801.8" y1="491.5" x2="801.8" y2="566.0" stroke="#e3e3e3" stroke-width="1"/>
<line x1="1019.9" y1="491.5" x2="1019.9" y2="566.0" stroke="#e3e3e3" stroke-width="1"/>
<line x1="1238.0" y1="491.5" x2="1238.0" y2="566.0" stroke="#e3e3e3" stroke-width="1"/>
<line x1="1434.9" y1="491.5" x2="1434.9" y2="566.0" stroke="#e3e3e3" stroke-width="1"/>
<line x1="1" y1="516.2" x2="1455.0" y2="516.2" stroke="#e3e3e3" stroke-width="1"/>
<line x1="1" y1="537.3" x2="1455.0" y2="537.3" stroke="#e3e3e3" stroke-width="1"/>
<line x1="1" y1="558.3" x2="1455.0" y2="558.3" stroke="#e3e3e3" stroke-width="1"/>
<g clip-path="url(#cd)">
<path d="M0.00,546.00 C1.70,546.08 0.33,546.17 10.20,546.50 C20.07,546.83 46.80,547.32 59.20,548.00 C71.60,548.68 74.72,549.52 84.60,550.60 C94.48,551.68 110.03,553.67 118.50,554.50 C126.97,555.33 127.50,555.47 135.40,555.60 C143.30,555.73 159.42,554.92 165.90,555.30 C172.38,555.68 169.50,556.72 174.30,557.90 C179.10,559.08 186.87,561.25 194.70,562.40 C202.53,563.55 212.85,564.43 221.30,564.80 C229.75,565.17 237.07,565.25 245.40,564.60 C253.73,563.95 262.82,561.77 271.30,560.90 C279.78,560.03 289.53,559.45 296.30,559.40 C303.07,559.35 301.48,560.67 311.90,560.60 C322.32,560.53 340.63,559.32 358.80,559.00 C376.97,558.68 406.00,559.32 420.90,558.70 C435.80,558.08 439.75,556.05 448.20,555.30 C456.65,554.55 465.37,554.28 471.60,554.20 C477.83,554.12 479.88,555.00 485.60,554.80 C491.32,554.60 498.60,554.22 505.90,553.00 C513.20,551.78 521.32,548.88 529.40,547.50 C537.48,546.12 545.03,545.30 554.40,544.70 C563.77,544.10 576.02,544.07 585.60,543.90 C595.18,543.73 605.08,544.48 611.90,543.70 C618.72,542.92 621.03,540.05 626.50,539.20 C631.97,538.35 636.50,538.97 644.70,538.60 C652.90,538.23 668.10,537.15 675.70,537.00 C683.30,536.85 684.83,538.25 690.30,537.70 C695.77,537.15 701.52,534.98 708.50,533.70 C715.48,532.42 724.62,530.73 732.20,530.00 C739.78,529.27 749.45,529.30 754.00,529.30 C758.55,529.30 754.93,528.50 759.50,530.00 C764.07,531.50 775.32,537.23 781.40,538.30 C787.48,539.37 790.53,536.72 796.00,536.40 C801.47,536.08 809.03,536.08 814.20,536.40 C819.37,536.72 821.83,537.83 827.00,538.30 C832.17,538.77 839.70,538.32 845.20,539.20 C850.70,540.08 855.37,542.27 860.00,543.60 C864.63,544.93 866.50,546.67 873.00,547.20 C879.50,547.73 893.57,547.30 899.00,546.80 C904.43,546.30 900.60,547.02 905.60,544.20 C910.60,541.38 923.58,532.72 929.00,529.90 C934.42,527.08 934.42,528.02 938.10,527.30 C941.78,526.58 946.75,525.92 951.10,525.60 C955.45,525.28 960.93,525.70 964.20,525.40 C967.47,525.10 968.53,524.67 970.70,523.80 C972.87,522.93 972.65,522.00 977.20,520.20 C981.75,518.40 993.02,514.92 998.00,513.00 C1002.98,511.08 1003.52,510.07 1007.10,508.70 C1010.68,507.33 1014.93,507.33 1019.50,504.80 C1024.07,502.27 1030.92,495.67 1034.50,493.50 C1038.08,491.33 1038.83,492.02 1041.00,491.80 C1043.17,491.58 1046.42,492.13 1047.50,492.20" fill="none" stroke="#3a55f0" stroke-width="1.3" stroke-linejoin="round" stroke-linecap="round" />
<path d="M0.00,546.50 C9.87,546.70 42.27,546.93 59.20,547.70 C76.13,548.47 88.90,550.12 101.60,551.10 C114.30,552.08 124.12,552.90 135.40,553.60 C146.68,554.30 159.42,554.32 169.30,555.30 C179.18,556.28 186.25,558.32 194.70,559.50 C203.15,560.68 209.12,561.75 220.00,562.40 C230.88,563.05 247.40,563.75 260.00,563.40 C272.60,563.05 285.87,560.70 295.60,560.30 C305.33,559.90 299.42,561.18 318.40,561.00 C337.38,560.82 384.75,560.02 409.50,559.20 C434.25,558.38 450.83,556.95 466.90,556.10 C482.97,555.25 490.28,555.53 505.90,554.10 C521.52,552.67 546.27,548.98 560.60,547.50 C574.93,546.02 583.30,545.72 591.90,545.20 C600.50,544.68 603.40,545.10 612.20,544.40 C621.00,543.70 631.68,542.02 644.70,541.00 C657.72,539.98 675.12,539.67 690.30,538.30 C705.48,536.93 724.27,533.97 735.80,532.80 C747.33,531.63 750.38,531.00 759.50,531.30 C768.62,531.60 780.77,533.75 790.50,534.60 C800.23,535.45 808.78,535.78 817.90,536.40 C827.02,537.02 838.18,537.75 845.20,538.30 C852.22,538.85 854.28,538.93 860.00,539.70 C865.72,540.47 872.33,542.03 879.50,542.90 C886.67,543.77 896.48,545.33 903.00,544.90 C909.52,544.47 912.75,542.03 918.60,540.30 C924.45,538.57 930.50,536.38 938.10,534.50 C945.70,532.62 955.52,531.28 964.20,529.00 C972.88,526.72 980.98,523.37 990.20,520.80 C999.42,518.23 1009.95,516.75 1019.50,513.60 C1029.05,510.45 1042.83,503.85 1047.50,501.90" fill="none" stroke="#f58a3c" stroke-width="1.2" stroke-linejoin="round" stroke-linecap="round" />
<rect x="-2.45" y="557.30" width="4.6" height="1.00" fill="#00ee00" fill-opacity="0.92"/>
<rect x="4.58" y="557.30" width="4.6" height="1.00" fill="#00ee00" fill-opacity="0.92"/>
<rect x="11.62" y="558.30" width="4.6" height="1.00" fill="#ff0000" fill-opacity="0.79"/>
<rect x="18.65" y="558.30" width="4.6" height="1.00" fill="#ff0000" fill-opacity="0.92"/>
<rect x="25.69" y="558.30" width="4.6" height="1.00" fill="#ff0000" fill-opacity="0.92"/>
<rect x="32.72" y="558.30" width="4.6" height="1.20" fill="#ff0000" fill-opacity="1.00"/>
<rect x="39.76" y="558.30" width="4.6" height="1.20" fill="#ff0000" fill-opacity="1.00"/>
<rect x="46.79" y="558.30" width="4.6" height="1.20" fill="#ff0000" fill-opacity="1.00"/>
<rect x="53.83" y="558.30" width="4.6" height="1.00" fill="#ff0000" fill-opacity="0.92"/>
<rect x="60.86" y="558.30" width="4.6" height="1.00" fill="#ff0000" fill-opacity="0.92"/>
<rect x="67.90" y="558.30" width="4.6" height="1.50" fill="#ff0000" fill-opacity="1.00"/>
<rect x="74.93" y="558.30" width="4.6" height="1.70" fill="#ff0000" fill-opacity="1.00"/>
<rect x="81.97" y="558.30" width="4.6" height="1.70" fill="#ff0000" fill-opacity="1.00"/>
<rect x="89.00" y="558.30" width="4.6" height="1.80" fill="#ff0000" fill-opacity="1.00"/>
<rect x="96.04" y="558.30" width="4.6" height="2.00" fill="#ff0000" fill-opacity="1.00"/>
<rect x="103.07" y="558.30" width="4.6" height="2.00" fill="#ff0000" fill-opacity="1.00"/>
<rect x="110.11" y="558.30" width="4.6" height="2.00" fill="#ff0000" fill-opacity="1.00"/>
<rect x="117.14" y="558.30" width="4.6" height="2.00" fill="#ff0000" fill-opacity="1.00"/>
<rect x="124.18" y="558.30" width="4.6" height="1.80" fill="#ff0000" fill-opacity="1.00"/>
<rect x="131.21" y="558.30" width="4.6" height="1.50" fill="#ff0000" fill-opacity="1.00"/>
<rect x="138.25" y="558.30" width="4.6" height="1.50" fill="#ff0000" fill-opacity="1.00"/>
<rect x="145.28" y="558.30" width="4.6" height="1.20" fill="#ff0000" fill-opacity="1.00"/>
<rect x="152.32" y="558.30" width="4.6" height="1.20" fill="#ff0000" fill-opacity="1.00"/>
<rect x="159.35" y="558.30" width="4.6" height="1.00" fill="#ff0000" fill-opacity="0.83"/>
<rect x="166.39" y="558.30" width="4.6" height="1.00" fill="#ff0000" fill-opacity="0.92"/>
<rect x="173.42" y="558.30" width="4.6" height="3.00" fill="#ff0000" fill-opacity="1.00"/>
<rect x="180.45" y="558.30" width="4.6" height="3.50" fill="#ff0000" fill-opacity="1.00"/>
<rect x="187.49" y="558.30" width="4.6" height="3.80" fill="#ff0000" fill-opacity="1.00"/>
<rect x="194.52" y="558.30" width="4.6" height="3.60" fill="#ff0000" fill-opacity="1.00"/>
<rect x="201.56" y="558.30" width="4.6" height="3.40" fill="#ff0000" fill-opacity="1.00"/>
<rect x="208.59" y="558.30" width="4.6" height="3.40" fill="#ff0000" fill-opacity="1.00"/>
<rect x="215.63" y="558.30" width="4.6" height="3.00" fill="#ff0000" fill-opacity="1.00"/>
<rect x="222.66" y="558.30" width="4.6" height="2.50" fill="#ff0000" fill-opacity="1.00"/>
<rect x="229.70" y="558.30" width="4.6" height="1.90" fill="#ff0000" fill-opacity="1.00"/>
<rect x="236.73" y="558.30" width="4.6" height="1.40" fill="#ff0000" fill-opacity="1.00"/>
<rect x="243.77" y="558.30" width="4.6" height="1.10" fill="#ff0000" fill-opacity="0.96"/>
<rect x="250.80" y="558.30" width="4.6" height="1.00" fill="#ff0000" fill-opacity="0.75"/>
<rect x="257.84" y="557.70" width="4.6" height="1.00" fill="#00ee00" fill-opacity="0.75"/>
<rect x="264.87" y="556.70" width="4.6" height="1.60" fill="#00ee00" fill-opacity="1.00"/>
<rect x="271.91" y="556.40" width="4.6" height="1.90" fill="#00ee00" fill-opacity="1.00"/>
<rect x="278.94" y="556.20" width="4.6" height="2.10" fill="#00ee00" fill-opacity="1.00"/>
<rect x="285.98" y="556.10" width="4.6" height="2.20" fill="#00ee00" fill-opacity="1.00"/>
<rect x="293.01" y="556.10" width="4.6" height="2.20" fill="#00ee00" fill-opacity="1.00"/>
<rect x="300.05" y="557.00" width="4.6" height="1.30" fill="#00ee00" fill-opacity="1.00"/>
<rect x="307.08" y="557.50" width="4.6" height="1.00" fill="#00ee00" fill-opacity="0.83"/>
<rect x="314.12" y="557.80" width="4.6" height="1.00" fill="#00ee00" fill-opacity="0.71"/>
<rect x="321.15" y="557.80" width="4.6" height="1.00" fill="#00ee00" fill-opacity="0.71"/>
<rect x="328.19" y="557.70" width="4.6" height="1.00" fill="#00ee00" fill-opacity="0.75"/>
<rect x="335.22" y="557.50" width="4.6" height="1.00" fill="#00ee00" fill-opacity="0.83"/>
<rect x="342.26" y="557.50" width="4.6" height="1.00" fill="#00ee00" fill-opacity="0.83"/>
<rect x="349.29" y="557.30" width="4.6" height="1.00" fill="#00ee00" fill-opacity="0.92"/>
<rect x="356.32" y="557.00" width="4.6" height="1.30" fill="#00ee00" fill-opacity="1.00"/>
<rect x="363.36" y="557.00" width="4.6" height="1.30" fill="#00ee00" fill-opacity="1.00"/>
<rect x="370.39" y="557.80" width="4.6" height="1.00" fill="#00ee00" fill-opacity="0.71"/>
<rect x="377.43" y="557.90" width="4.6" height="1.00" fill="#00ee00" fill-opacity="0.67"/>
<rect x="384.46" y="557.80" width="4.6" height="1.00" fill="#00ee00" fill-opacity="0.71"/>
<rect x="391.50" y="557.80" width="4.6" height="1.00" fill="#00ee00" fill-opacity="0.71"/>
<rect x="398.53" y="557.80" width="4.6" height="1.00" fill="#00ee00" fill-opacity="0.71"/>
<rect x="405.57" y="557.80" width="4.6" height="1.00" fill="#00ee00" fill-opacity="0.71"/>
<rect x="412.60" y="557.80" width="4.6" height="1.00" fill="#00ee00" fill-opacity="0.71"/>
<rect x="419.64" y="557.70" width="4.6" height="1.00" fill="#00ee00" fill-opacity="0.75"/>
<rect x="426.67" y="557.60" width="4.6" height="1.00" fill="#00ee00" fill-opacity="0.79"/>
<rect x="433.71" y="557.30" width="4.6" height="1.00" fill="#00ee00" fill-opacity="0.92"/>
<rect x="440.74" y="557.10" width="4.6" height="1.20" fill="#00ee00" fill-opacity="1.00"/>
<rect x="447.78" y="556.50" width="4.6" height="1.80" fill="#00ee00" fill-opacity="1.00"/>
<rect x="454.81" y="556.80" width="4.6" height="1.50" fill="#00ee00" fill-opacity="1.00"/>
<rect x="461.85" y="556.80" width="4.6" height="1.50" fill="#00ee00" fill-opacity="1.00"/>
<rect x="468.88" y="556.80" width="4.6" height="1.50" fill="#00ee00" fill-opacity="1.00"/>
<rect x="475.92" y="557.50" width="4.6" height="1.00" fill="#00ee00" fill-opacity="0.83"/>
<rect x="482.95" y="557.70" width="4.6" height="1.00" fill="#00ee00" fill-opacity="0.75"/>
<rect x="489.99" y="557.70" width="4.6" height="1.00" fill="#00ee00" fill-opacity="0.75"/>
<rect x="497.02" y="557.70" width="4.6" height="1.00" fill="#00ee00" fill-opacity="0.75"/>
<rect x="504.06" y="557.60" width="4.6" height="1.00" fill="#00ee00" fill-opacity="0.79"/>
<rect x="511.09" y="556.50" width="4.6" height="1.80" fill="#00ee00" fill-opacity="1.00"/>
<rect x="518.13" y="555.00" width="4.6" height="3.30" fill="#00ee00" fill-opacity="1.00"/>
<rect x="525.16" y="554.50" width="4.6" height="3.80" fill="#00ee00" fill-opacity="1.00"/>
<rect x="532.19" y="554.50" width="4.6" height="3.80" fill="#00ee00" fill-opacity="1.00"/>
<rect x="539.23" y="555.00" width="4.6" height="3.30" fill="#00ee00" fill-opacity="1.00"/>
<rect x="546.26" y="555.30" width="4.6" height="3.00" fill="#00ee00" fill-opacity="1.00"/>
<rect x="553.30" y="555.00" width="4.6" height="3.30" fill="#00ee00" fill-opacity="1.00"/>
<rect x="560.33" y="556.00" width="4.6" height="2.30" fill="#00ee00" fill-opacity="1.00"/>
<rect x="567.37" y="556.70" width="4.6" height="1.60" fill="#00ee00" fill-opacity="1.00"/>
<rect x="574.40" y="557.10" width="4.6" height="1.20" fill="#00ee00" fill-opacity="1.00"/>
<rect x="581.44" y="557.10" width="4.6" height="1.20" fill="#00ee00" fill-opacity="1.00"/>
<rect x="588.47" y="557.40" width="4.6" height="1.00" fill="#00ee00" fill-opacity="0.88"/>
<rect x="595.51" y="557.80" width="4.6" height="1.00" fill="#00ee00" fill-opacity="0.71"/>
<rect x="602.54" y="557.80" width="4.6" height="1.00" fill="#00ee00" fill-opacity="0.71"/>
<rect x="609.58" y="557.70" width="4.6" height="1.00" fill="#00ee00" fill-opacity="0.75"/>
<rect x="616.61" y="555.80" width="4.6" height="2.50" fill="#00ee00" fill-opacity="1.00"/>
<rect x="623.65" y="555.10" width="4.6" height="3.20" fill="#00ee00" fill-opacity="1.00"/>
<rect x="630.68" y="555.90" width="4.6" height="2.40" fill="#00ee00" fill-opacity="1.00"/>
<rect x="637.72" y="556.30" width="4.6" height="2.00" fill="#00ee00" fill-opacity="1.00"/>
<rect x="644.75" y="556.70" width="4.6" height="1.60" fill="#00ee00" fill-opacity="1.00"/>
<rect x="651.79" y="557.10" width="4.6" height="1.20" fill="#00ee00" fill-opacity="1.00"/>
<rect x="658.82" y="557.00" width="4.6" height="1.30" fill="#00ee00" fill-opacity="1.00"/>
<rect x="665.86" y="556.80" width="4.6" height="1.50" fill="#00ee00" fill-opacity="1.00"/>
<rect x="672.89" y="556.80" width="4.6" height="1.50" fill="#00ee00" fill-opacity="1.00"/>
<rect x="679.93" y="557.10" width="4.6" height="1.20" fill="#00ee00" fill-opacity="1.00"/>
<rect x="686.96" y="557.70" width="4.6" height="1.00" fill="#00ee00" fill-opacity="0.75"/>
<rect x="694.00" y="557.70" width="4.6" height="1.00" fill="#00ee00" fill-opacity="0.75"/>
<rect x="701.03" y="557.00" width="4.6" height="1.30" fill="#00ee00" fill-opacity="1.00"/>
<rect x="708.06" y="556.10" width="4.6" height="2.20" fill="#00ee00" fill-opacity="1.00"/>
<rect x="715.10" y="556.30" width="4.6" height="2.00" fill="#00ee00" fill-opacity="1.00"/>
<rect x="722.13" y="555.70" width="4.6" height="2.60" fill="#00ee00" fill-opacity="1.00"/>
<rect x="729.17" y="555.70" width="4.6" height="2.60" fill="#00ee00" fill-opacity="1.00"/>
<rect x="736.20" y="556.30" width="4.6" height="2.00" fill="#00ee00" fill-opacity="1.00"/>
<rect x="743.24" y="556.80" width="4.6" height="1.50" fill="#00ee00" fill-opacity="1.00"/>
<rect x="750.27" y="556.80" width="4.6" height="1.50" fill="#00ee00" fill-opacity="1.00"/>
<rect x="757.31" y="557.10" width="4.6" height="1.20" fill="#00ee00" fill-opacity="1.00"/>
<rect x="764.34" y="558.30" width="4.6" height="1.00" fill="#ff0000" fill-opacity="0.83"/>
<rect x="771.38" y="558.30" width="4.6" height="2.60" fill="#ff0000" fill-opacity="1.00"/>
<rect x="778.41" y="558.30" width="4.6" height="2.90" fill="#ff0000" fill-opacity="1.00"/>
<rect x="785.45" y="558.30" width="4.6" height="2.90" fill="#ff0000" fill-opacity="1.00"/>
<rect x="792.48" y="558.30" width="4.6" height="1.00" fill="#ff0000" fill-opacity="0.92"/>
<rect x="799.52" y="558.30" width="4.6" height="1.00" fill="#ff0000" fill-opacity="0.92"/>
<rect x="806.55" y="558.30" width="4.6" height="1.00" fill="#ff0000" fill-opacity="0.83"/>
<rect x="813.59" y="558.30" width="4.6" height="1.00" fill="#ff0000" fill-opacity="0.83"/>
<rect x="820.62" y="558.30" width="4.6" height="1.00" fill="#ff0000" fill-opacity="0.92"/>
<rect x="827.66" y="558.30" width="4.6" height="1.00" fill="#ff0000" fill-opacity="0.92"/>
<rect x="834.69" y="558.30" width="4.6" height="1.30" fill="#ff0000" fill-opacity="1.00"/>
<rect x="841.73" y="558.30" width="4.6" height="1.60" fill="#ff0000" fill-opacity="1.00"/>
<rect x="848.76" y="558.30" width="4.6" height="2.10" fill="#ff0000" fill-opacity="1.00"/>
<rect x="855.80" y="558.30" width="4.6" height="2.60" fill="#ff0000" fill-opacity="1.00"/>
<rect x="862.83" y="558.30" width="4.6" height="4.30" fill="#ff0000" fill-opacity="1.00"/>
<rect x="869.87" y="558.30" width="4.6" height="4.80" fill="#ff0000" fill-opacity="1.00"/>
<rect x="876.90" y="558.30" width="4.6" height="4.10" fill="#ff0000" fill-opacity="1.00"/>
<rect x="883.93" y="558.30" width="4.6" height="3.00" fill="#ff0000" fill-opacity="1.00"/>
<rect x="890.97" y="558.30" width="4.6" height="1.90" fill="#ff0000" fill-opacity="1.00"/>
<rect x="898.00" y="558.30" width="4.6" height="1.30" fill="#ff0000" fill-opacity="1.00"/>
<rect x="905.04" y="556.60" width="4.6" height="1.70" fill="#00ee00" fill-opacity="1.00"/>
<rect x="912.07" y="553.10" width="4.6" height="5.20" fill="#00ee00" fill-opacity="1.00"/>
<rect x="919.11" y="550.80" width="4.6" height="7.50" fill="#00ee00" fill-opacity="1.00"/>
<rect x="926.14" y="548.80" width="4.6" height="9.50" fill="#00ee00" fill-opacity="1.00"/>
<rect x="933.18" y="548.80" width="4.6" height="9.50" fill="#00ee00" fill-opacity="1.00"/>
<rect x="940.21" y="550.80" width="4.6" height="7.50" fill="#00ee00" fill-opacity="1.00"/>
<rect x="947.25" y="550.80" width="4.6" height="7.50" fill="#00ee00" fill-opacity="1.00"/>
<rect x="954.28" y="552.40" width="4.6" height="5.90" fill="#00ee00" fill-opacity="1.00"/>
<rect x="961.32" y="553.10" width="4.6" height="5.20" fill="#00ee00" fill-opacity="1.00"/>
<rect x="968.35" y="552.70" width="4.6" height="5.60" fill="#00ee00" fill-opacity="1.00"/>
<rect x="975.39" y="550.80" width="4.6" height="7.50" fill="#00ee00" fill-opacity="1.00"/>
<rect x="982.42" y="550.60" width="4.6" height="7.70" fill="#00ee00" fill-opacity="1.00"/>
<rect x="989.46" y="549.80" width="4.6" height="8.50" fill="#00ee00" fill-opacity="1.00"/>
<rect x="996.49" y="549.80" width="4.6" height="8.50" fill="#00ee00" fill-opacity="1.00"/>
<rect x="1003.53" y="548.50" width="4.6" height="9.80" fill="#00ee00" fill-opacity="1.00"/>
<rect x="1010.56" y="548.50" width="4.6" height="9.80" fill="#00ee00" fill-opacity="1.00"/>
<rect x="1017.60" y="548.50" width="4.6" height="9.80" fill="#00ee00" fill-opacity="1.00"/>
<rect x="1024.63" y="545.90" width="4.6" height="12.40" fill="#00ee00" fill-opacity="1.00"/>
<rect x="1031.67" y="543.90" width="4.6" height="14.40" fill="#00ee00" fill-opacity="1.00"/>
<rect x="1038.70" y="545.60" width="4.6" height="12.70" fill="#00ee00" fill-opacity="1.00"/>
<rect x="1045.74" y="548.20" width="4.6" height="10.10" fill="#00ee00" fill-opacity="1.00"/>
</g>
<rect x="4.4" y="495" width="99" height="19.5" fill="rgba(52,52,52,0.76)"/>
<rect x="4.4" y="495" width="2.2" height="19.5" fill="#2233ff"/>
<text x="15.3" y="509.3" font-size="10" font-weight="bold" fill="#fff">MACD (12,26,9)</text>
<line x1="1456.0" y1="516.2" x2="1460" y2="516.2" stroke="#999" stroke-width="1"/>
<text transform="translate(1462,519.90) scale(1,1.07)" font-size="9.75" fill="#5e5e5e" stroke="#5e5e5e" stroke-width="0.22">2,000.000</text>
<line x1="1456.0" y1="537.3" x2="1460" y2="537.3" stroke="#999" stroke-width="1"/>
<text transform="translate(1462,541.00) scale(1,1.07)" font-size="9.75" fill="#5e5e5e" stroke="#5e5e5e" stroke-width="0.22">1,000.000</text>
<line x1="1456.0" y1="558.3" x2="1460" y2="558.3" stroke="#999" stroke-width="1"/>
<text transform="translate(1462,562.00) scale(1,1.07)" font-size="9.75" fill="#5e5e5e" stroke="#5e5e5e" stroke-width="0.22">0.000</text>
<rect x="718" y="568.7" width="18" height="4.2" fill="#b8b8b8"/>
<rect x="0.5" y="574.5" width="1455.0" height="77.0" fill="#f6f6f6" stroke="#d3dae7" stroke-width="1"/>
<line x1="161.7" y1="575.0" x2="161.7" y2="651.0" stroke="#e3e3e3" stroke-width="1"/>
<line x1="372.7" y1="575.0" x2="372.7" y2="651.0" stroke="#e3e3e3" stroke-width="1"/>
<line x1="590.8" y1="575.0" x2="590.8" y2="651.0" stroke="#e3e3e3" stroke-width="1"/>
<line x1="801.8" y1="575.0" x2="801.8" y2="651.0" stroke="#e3e3e3" stroke-width="1"/>
<line x1="1019.9" y1="575.0" x2="1019.9" y2="651.0" stroke="#e3e3e3" stroke-width="1"/>
<line x1="1238.0" y1="575.0" x2="1238.0" y2="651.0" stroke="#e3e3e3" stroke-width="1"/>
<line x1="1434.9" y1="575.0" x2="1434.9" y2="651.0" stroke="#e3e3e3" stroke-width="1"/>
<line x1="1" y1="600.1" x2="1455.0" y2="600.1" stroke="#e3e3e3" stroke-width="1"/>
<line x1="1" y1="628.3" x2="1455.0" y2="628.3" stroke="#e3e3e3" stroke-width="1"/>
<g clip-path="url(#cs)">
<polyline points="0.0,620.0 6.8,617.4 13.5,621.6 21.2,624.5 27.9,623.3 34.7,623.3 42.3,621.6 49.1,623.3 56.4,614.9 63.5,618.2 71.1,620.8 77.9,622.1 84.6,624.5 91.4,626.2 98.2,626.7 104.9,625.0 112.6,628.4 119.3,630.1 126.9,632.3 133.7,633.5 140.5,633.5 147.3,630.9 154.0,630.1 161.6,625.0 168.4,628.4 176.0,635.2 182.8,637.7 189.6,639.4 197.2,640.8 204.0,641.9 210.7,643.1 218.0,643.6 225.1,641.1 231.9,641.4 238.7,640.8 246.3,639.1 253.0,636.0 260.0,632.3 266.9,631.8 280.5,633.5 288.1,631.3 294.9,632.6 302.5,635.7 309.2,636.4 316.0,638.0 323.6,634.0 330.4,634.7 337.2,633.5 344.8,634.7 351.6,632.6 358.3,632.6 365.1,634.0 372.7,636.0 379.5,637.4 386.3,638.0 393.9,635.2 400.6,633.5 408.3,634.3 415.0,635.2 421.8,628.4 428.6,625.0 436.2,616.0 443.0,617.4 450.6,613.2 457.3,615.7 464.1,618.2 470.9,619.4 478.5,622.1 485.3,623.8 492.0,621.1 498.8,614.9 506.8,610.6 513.5,591.2 520.3,596.7 527.9,600.5 534.7,600.1 541.5,600.1 549.1,604.7 555.9,597.9 562.6,606.9 569.4,611.5 577.0,615.2 583.8,610.6 590.6,612.3 598.2,616.5 604.9,616.0 611.7,617.4 619.3,599.1 626.1,601.3 632.9,609.8 640.5,614.3 647.3,616.0 654.0,617.7 660.8,613.2 668.4,611.5 675.2,612.3 682.0,614.9 688.7,616.5 696.3,609.8 703.1,603.0 709.9,601.0 717.5,605.2 724.3,601.8 731.0,603.3 738.7,608.9 745.4,612.0 753.0,608.7 759.1,612.4 766.1,621.5 773.2,623.5 780.3,621.5 787.3,618.8 794.4,608.7 801.5,614.0 808.5,617.4 815.6,616.8 822.7,619.4 829.7,621.1 836.8,620.0 843.8,621.5 850.9,624.5 858.0,627.1 865.0,628.5 872.1,629.9 879.2,624.9 886.2,621.5 893.3,622.5 900.4,620.9 907.4,606.3 914.5,593.6 921.5,597.6 928.6,595.2 935.7,598.7 942.7,605.7 949.8,611.0 956.9,612.8 963.9,615.8 971.0,611.0 978.1,599.9 985.1,596.6 992.2,601.3 999.2,605.9 1006.3,598.3 1013.4,600.3 1020.4,600.3 1027.5,588.6 1034.6,587.6 1041.6,601.9 1047.7,607.3" fill="none" stroke="#33ee11" stroke-width="2" stroke-linejoin="round" stroke-linecap="round" />
<polyline points="0.0,640.8 6.8,642.4 13.5,635.7 21.2,637.4 27.9,638.6 34.7,639.1 42.3,639.9 49.1,640.8 56.4,642.4 63.5,644.0 70.2,639.1 77.9,639.9 84.6,636.9 91.4,634.8 98.2,635.7 105.8,636.9 112.6,627.5 119.3,629.2 126.9,627.9 133.7,629.2 140.5,630.1 147.3,631.3 154.0,632.6 161.6,635.2 168.4,629.2 176.0,610.6 182.8,613.7 189.6,617.1 197.2,619.1 204.0,619.4 210.7,621.6 218.0,623.7 225.1,624.7 231.9,625.3 238.7,626.4 246.3,628.4 253.0,630.6 260.0,632.3 266.9,634.0 280.5,635.7 288.1,636.9 294.9,634.3 302.5,625.3 309.2,626.2 316.0,623.7 323.6,626.7 330.4,627.5 337.2,628.9 344.8,628.4 351.6,630.1 358.3,631.3 365.1,632.3 372.7,628.4 379.5,628.1 386.3,628.9 393.9,630.1 400.6,630.9 408.3,629.2 415.0,630.1 421.8,632.6 428.6,634.3 436.2,636.9 443.0,637.7 450.6,639.7 457.3,640.8 464.1,641.1 470.9,642.4 478.5,641.9 485.3,642.4 492.0,643.1 498.8,644.1 506.8,645.3 513.5,648.2 527.9,649.2 541.5,650.4 549.1,647.9 555.9,648.7 562.6,646.5 577.0,647.9 590.6,649.6 598.2,641.6 611.7,644.5 619.3,647.0 626.1,647.9 632.9,636.4 647.3,640.2 668.4,643.1 675.2,644.1 682.0,641.1 688.7,641.6 703.1,644.8 717.5,647.0 731.0,648.7 738.7,640.2 752.2,643.3 759.1,644.7 766.1,623.5 780.3,627.5 787.3,629.5 794.4,632.6 801.5,635.0 808.5,636.6 815.6,637.6 822.7,636.0 829.7,636.0 836.8,637.0 843.8,638.0 850.9,632.2 858.0,628.1 865.0,629.9 872.1,627.5 879.2,629.5 886.2,630.9 893.3,631.6 900.4,633.0 907.4,637.0 914.5,640.2 921.5,641.2 928.6,642.7 935.7,644.1 942.7,635.0 949.8,637.2 956.9,639.2 963.9,640.6 971.0,642.0 978.1,644.1 985.1,645.7 992.2,646.1 999.2,645.3 1006.3,646.1 1013.4,646.7 1020.4,647.1 1027.5,648.7 1034.6,650.1 1040.6,629.5 1047.7,632.6" fill="none" stroke="#ff1010" stroke-width="2" stroke-linejoin="round" stroke-linecap="round" />
<line x1="-2.60" y1="597.90" x2="2.30" y2="597.90" stroke="#1f2ef8" stroke-width="1.5"/>
<line x1="4.43" y1="598.36" x2="9.33" y2="598.36" stroke="#1f2ef8" stroke-width="1.5"/>
<line x1="11.47" y1="598.88" x2="16.37" y2="598.88" stroke="#1f2ef8" stroke-width="1.5"/>
<line x1="18.50" y1="600.17" x2="23.40" y2="600.17" stroke="#1f2ef8" stroke-width="1.5"/>
<line x1="25.54" y1="601.42" x2="30.44" y2="601.42" stroke="#1f2ef8" stroke-width="1.5"/>
<line x1="32.57" y1="602.34" x2="37.47" y2="602.34" stroke="#1f2ef8" stroke-width="1.5"/>
<line x1="39.61" y1="603.27" x2="44.51" y2="603.27" stroke="#1f2ef8" stroke-width="1.5"/>
<line x1="46.64" y1="603.30" x2="51.54" y2="603.30" stroke="#1f2ef8" stroke-width="1.5"/>
<line x1="53.68" y1="601.84" x2="58.58" y2="601.84" stroke="#1f2ef8" stroke-width="1.5"/>
<line x1="60.71" y1="600.57" x2="65.61" y2="600.57" stroke="#1f2ef8" stroke-width="1.5"/>
<line x1="67.75" y1="601.45" x2="72.65" y2="601.45" stroke="#1f2ef8" stroke-width="1.5"/>
<line x1="74.78" y1="602.45" x2="79.68" y2="602.45" stroke="#1f2ef8" stroke-width="1.5"/>
<line x1="81.82" y1="604.16" x2="86.72" y2="604.16" stroke="#1f2ef8" stroke-width="1.5"/>
<line x1="88.85" y1="605.88" x2="93.75" y2="605.88" stroke="#1f2ef8" stroke-width="1.5"/>
<line x1="95.89" y1="608.09" x2="100.79" y2="608.09" stroke="#1f2ef8" stroke-width="1.5"/>
<line x1="102.92" y1="610.30" x2="107.82" y2="610.30" stroke="#1f2ef8" stroke-width="1.5"/>
<line x1="109.96" y1="612.55" x2="114.86" y2="612.55" stroke="#1f2ef8" stroke-width="1.5"/>
<line x1="116.99" y1="615.05" x2="121.89" y2="615.05" stroke="#1f2ef8" stroke-width="1.5"/>
<line x1="124.03" y1="617.55" x2="128.93" y2="617.55" stroke="#1f2ef8" stroke-width="1.5"/>
<line x1="131.06" y1="619.22" x2="135.96" y2="619.22" stroke="#1f2ef8" stroke-width="1.5"/>
<line x1="138.10" y1="620.83" x2="143.00" y2="620.83" stroke="#1f2ef8" stroke-width="1.5"/>
<line x1="145.13" y1="622.61" x2="150.03" y2="622.61" stroke="#1f2ef8" stroke-width="1.5"/>
<line x1="152.17" y1="624.54" x2="157.07" y2="624.54" stroke="#1f2ef8" stroke-width="1.5"/>
<line x1="159.20" y1="626.47" x2="164.10" y2="626.47" stroke="#1f2ef8" stroke-width="1.5"/>
<line x1="166.24" y1="628.25" x2="171.14" y2="628.25" stroke="#1f2ef8" stroke-width="1.5"/>
<line x1="173.27" y1="627.21" x2="178.17" y2="627.21" stroke="#1f2ef8" stroke-width="1.5"/>
<line x1="180.30" y1="625.91" x2="185.20" y2="625.91" stroke="#1f2ef8" stroke-width="1.5"/>
<line x1="187.34" y1="624.01" x2="192.24" y2="624.01" stroke="#1f2ef8" stroke-width="1.5"/>
<line x1="194.37" y1="622.10" x2="199.27" y2="622.10" stroke="#1f2ef8" stroke-width="1.5"/>
<line x1="201.41" y1="620.21" x2="206.31" y2="620.21" stroke="#1f2ef8" stroke-width="1.5"/>
<line x1="208.44" y1="618.40" x2="213.34" y2="618.40" stroke="#1f2ef8" stroke-width="1.5"/>
<line x1="215.48" y1="616.60" x2="220.38" y2="616.60" stroke="#1f2ef8" stroke-width="1.5"/>
<line x1="222.51" y1="615.80" x2="227.41" y2="615.80" stroke="#1f2ef8" stroke-width="1.5"/>
<line x1="229.55" y1="615.07" x2="234.45" y2="615.07" stroke="#1f2ef8" stroke-width="1.5"/>
<line x1="236.58" y1="615.06" x2="241.48" y2="615.06" stroke="#1f2ef8" stroke-width="1.5"/>
<line x1="243.62" y1="615.81" x2="248.52" y2="615.81" stroke="#1f2ef8" stroke-width="1.5"/>
<line x1="250.65" y1="617.62" x2="255.55" y2="617.62" stroke="#1f2ef8" stroke-width="1.5"/>
<line x1="257.69" y1="619.45" x2="262.59" y2="619.45" stroke="#1f2ef8" stroke-width="1.5"/>
<line x1="264.72" y1="622.16" x2="269.62" y2="622.16" stroke="#1f2ef8" stroke-width="1.5"/>
<line x1="271.76" y1="623.73" x2="276.66" y2="623.73" stroke="#1f2ef8" stroke-width="1.5"/>
<line x1="278.79" y1="625.31" x2="283.69" y2="625.31" stroke="#1f2ef8" stroke-width="1.5"/>
<line x1="285.83" y1="626.47" x2="290.73" y2="626.47" stroke="#1f2ef8" stroke-width="1.5"/>
<line x1="292.86" y1="627.39" x2="297.76" y2="627.39" stroke="#1f2ef8" stroke-width="1.5"/>
<line x1="299.90" y1="628.12" x2="304.80" y2="628.12" stroke="#1f2ef8" stroke-width="1.5"/>
<line x1="306.93" y1="628.20" x2="311.83" y2="628.20" stroke="#1f2ef8" stroke-width="1.5"/>
<line x1="313.97" y1="628.28" x2="318.87" y2="628.28" stroke="#1f2ef8" stroke-width="1.5"/>
<line x1="321.00" y1="628.37" x2="325.90" y2="628.37" stroke="#1f2ef8" stroke-width="1.5"/>
<line x1="328.04" y1="628.97" x2="332.94" y2="628.97" stroke="#1f2ef8" stroke-width="1.5"/>
<line x1="335.07" y1="629.92" x2="339.97" y2="629.92" stroke="#1f2ef8" stroke-width="1.5"/>
<line x1="342.11" y1="630.86" x2="347.01" y2="630.86" stroke="#1f2ef8" stroke-width="1.5"/>
<line x1="349.14" y1="631.80" x2="354.04" y2="631.80" stroke="#1f2ef8" stroke-width="1.5"/>
<line x1="356.17" y1="632.63" x2="361.07" y2="632.63" stroke="#1f2ef8" stroke-width="1.5"/>
<line x1="363.21" y1="633.47" x2="368.11" y2="633.47" stroke="#1f2ef8" stroke-width="1.5"/>
<line x1="370.24" y1="634.30" x2="375.14" y2="634.30" stroke="#1f2ef8" stroke-width="1.5"/>
<line x1="377.28" y1="634.84" x2="382.18" y2="634.84" stroke="#1f2ef8" stroke-width="1.5"/>
<line x1="384.31" y1="634.96" x2="389.21" y2="634.96" stroke="#1f2ef8" stroke-width="1.5"/>
<line x1="391.35" y1="635.07" x2="396.25" y2="635.07" stroke="#1f2ef8" stroke-width="1.5"/>
<line x1="398.38" y1="635.18" x2="403.28" y2="635.18" stroke="#1f2ef8" stroke-width="1.5"/>
<line x1="405.42" y1="635.80" x2="410.32" y2="635.80" stroke="#1f2ef8" stroke-width="1.5"/>
<line x1="412.45" y1="636.57" x2="417.35" y2="636.57" stroke="#1f2ef8" stroke-width="1.5"/>
<line x1="419.49" y1="637.33" x2="424.39" y2="637.33" stroke="#1f2ef8" stroke-width="1.5"/>
<line x1="426.52" y1="636.37" x2="431.42" y2="636.37" stroke="#1f2ef8" stroke-width="1.5"/>
<line x1="433.56" y1="635.23" x2="438.46" y2="635.23" stroke="#1f2ef8" stroke-width="1.5"/>
<line x1="440.59" y1="633.14" x2="445.49" y2="633.14" stroke="#1f2ef8" stroke-width="1.5"/>
<line x1="447.63" y1="631.01" x2="452.53" y2="631.01" stroke="#1f2ef8" stroke-width="1.5"/>
<line x1="454.66" y1="628.70" x2="459.56" y2="628.70" stroke="#1f2ef8" stroke-width="1.5"/>
<line x1="461.70" y1="626.24" x2="466.60" y2="626.24" stroke="#1f2ef8" stroke-width="1.5"/>
<line x1="468.73" y1="623.90" x2="473.63" y2="623.90" stroke="#1f2ef8" stroke-width="1.5"/>
<line x1="475.77" y1="622.12" x2="480.67" y2="622.12" stroke="#1f2ef8" stroke-width="1.5"/>
<line x1="482.80" y1="620.34" x2="487.70" y2="620.34" stroke="#1f2ef8" stroke-width="1.5"/>
<line x1="489.84" y1="618.07" x2="494.74" y2="618.07" stroke="#1f2ef8" stroke-width="1.5"/>
<line x1="496.87" y1="615.64" x2="501.77" y2="615.64" stroke="#1f2ef8" stroke-width="1.5"/>
<line x1="503.91" y1="613.34" x2="508.81" y2="613.34" stroke="#1f2ef8" stroke-width="1.5"/>
<line x1="510.94" y1="609.05" x2="515.84" y2="609.05" stroke="#1f2ef8" stroke-width="1.5"/>
<line x1="517.98" y1="604.62" x2="522.88" y2="604.62" stroke="#1f2ef8" stroke-width="1.5"/>
<line x1="525.01" y1="600.22" x2="529.91" y2="600.22" stroke="#1f2ef8" stroke-width="1.5"/>
<line x1="532.04" y1="595.96" x2="536.94" y2="595.96" stroke="#1f2ef8" stroke-width="1.5"/>
<line x1="539.08" y1="593.18" x2="543.98" y2="593.18" stroke="#1f2ef8" stroke-width="1.5"/>
<line x1="546.11" y1="590.39" x2="551.01" y2="590.39" stroke="#1f2ef8" stroke-width="1.5"/>
<line x1="553.15" y1="587.80" x2="558.05" y2="587.80" stroke="#1f2ef8" stroke-width="1.5"/>
<line x1="560.18" y1="585.30" x2="565.08" y2="585.30" stroke="#1f2ef8" stroke-width="1.5"/>
<line x1="567.22" y1="583.17" x2="572.12" y2="583.17" stroke="#1f2ef8" stroke-width="1.5"/>
<line x1="574.25" y1="582.01" x2="579.15" y2="582.01" stroke="#1f2ef8" stroke-width="1.5"/>
<line x1="581.29" y1="580.84" x2="586.19" y2="580.84" stroke="#1f2ef8" stroke-width="1.5"/>
<line x1="588.32" y1="578.98" x2="593.22" y2="578.98" stroke="#1f2ef8" stroke-width="1.5"/>
<line x1="595.36" y1="579.40" x2="600.26" y2="579.40" stroke="#1f2ef8" stroke-width="1.5"/>
<line x1="602.39" y1="580.06" x2="607.29" y2="580.06" stroke="#1f2ef8" stroke-width="1.5"/>
<line x1="609.43" y1="580.66" x2="614.33" y2="580.66" stroke="#1f2ef8" stroke-width="1.5"/>
<line x1="616.46" y1="579.09" x2="621.36" y2="579.09" stroke="#1f2ef8" stroke-width="1.5"/>
<line x1="623.50" y1="577.51" x2="628.40" y2="577.51" stroke="#1f2ef8" stroke-width="1.5"/>
<line x1="630.53" y1="578.52" x2="635.43" y2="578.52" stroke="#1f2ef8" stroke-width="1.5"/>
<line x1="637.57" y1="579.93" x2="642.47" y2="579.93" stroke="#1f2ef8" stroke-width="1.5"/>
<line x1="644.60" y1="581.35" x2="649.50" y2="581.35" stroke="#1f2ef8" stroke-width="1.5"/>
<line x1="651.64" y1="582.43" x2="656.54" y2="582.43" stroke="#1f2ef8" stroke-width="1.5"/>
<line x1="658.67" y1="582.56" x2="663.57" y2="582.56" stroke="#1f2ef8" stroke-width="1.5"/>
<line x1="665.71" y1="582.68" x2="670.61" y2="582.68" stroke="#1f2ef8" stroke-width="1.5"/>
<line x1="672.74" y1="583.24" x2="677.64" y2="583.24" stroke="#1f2ef8" stroke-width="1.5"/>
<line x1="679.78" y1="583.88" x2="684.68" y2="583.88" stroke="#1f2ef8" stroke-width="1.5"/>
<line x1="686.81" y1="584.20" x2="691.71" y2="584.20" stroke="#1f2ef8" stroke-width="1.5"/>
<line x1="693.85" y1="583.20" x2="698.75" y2="583.20" stroke="#1f2ef8" stroke-width="1.5"/>
<line x1="700.88" y1="582.19" x2="705.78" y2="582.19" stroke="#1f2ef8" stroke-width="1.5"/>
<line x1="707.91" y1="581.18" x2="712.81" y2="581.18" stroke="#1f2ef8" stroke-width="1.5"/>
<line x1="714.95" y1="579.57" x2="719.85" y2="579.57" stroke="#1f2ef8" stroke-width="1.5"/>
<line x1="721.98" y1="577.83" x2="726.88" y2="577.83" stroke="#1f2ef8" stroke-width="1.5"/>
<line x1="729.02" y1="576.43" x2="733.92" y2="576.43" stroke="#1f2ef8" stroke-width="1.5"/>
<line x1="736.05" y1="576.60" x2="740.95" y2="576.60" stroke="#1f2ef8" stroke-width="1.5"/>
<line x1="743.09" y1="576.77" x2="747.99" y2="576.77" stroke="#1f2ef8" stroke-width="1.5"/>
<line x1="750.12" y1="576.94" x2="755.02" y2="576.94" stroke="#1f2ef8" stroke-width="1.5"/>
<line x1="757.16" y1="577.49" x2="762.06" y2="577.49" stroke="#1f2ef8" stroke-width="1.5"/>
<line x1="764.19" y1="582.94" x2="769.09" y2="582.94" stroke="#1f2ef8" stroke-width="1.5"/>
<line x1="771.23" y1="588.40" x2="776.13" y2="588.40" stroke="#1f2ef8" stroke-width="1.5"/>
<line x1="778.26" y1="591.44" x2="783.16" y2="591.44" stroke="#1f2ef8" stroke-width="1.5"/>
<line x1="785.30" y1="595.25" x2="790.20" y2="595.25" stroke="#1f2ef8" stroke-width="1.5"/>
<line x1="792.33" y1="596.11" x2="797.23" y2="596.11" stroke="#1f2ef8" stroke-width="1.5"/>
<line x1="799.37" y1="596.96" x2="804.27" y2="596.96" stroke="#1f2ef8" stroke-width="1.5"/>
<line x1="806.40" y1="597.79" x2="811.30" y2="597.79" stroke="#1f2ef8" stroke-width="1.5"/>
<line x1="813.44" y1="598.62" x2="818.34" y2="598.62" stroke="#1f2ef8" stroke-width="1.5"/>
<line x1="820.47" y1="599.87" x2="825.37" y2="599.87" stroke="#1f2ef8" stroke-width="1.5"/>
<line x1="827.51" y1="601.16" x2="832.41" y2="601.16" stroke="#1f2ef8" stroke-width="1.5"/>
<line x1="834.54" y1="602.73" x2="839.44" y2="602.73" stroke="#1f2ef8" stroke-width="1.5"/>
<line x1="841.58" y1="604.33" x2="846.48" y2="604.33" stroke="#1f2ef8" stroke-width="1.5"/>
<line x1="848.61" y1="605.97" x2="853.51" y2="605.97" stroke="#1f2ef8" stroke-width="1.5"/>
<line x1="855.65" y1="609.22" x2="860.55" y2="609.22" stroke="#1f2ef8" stroke-width="1.5"/>
<line x1="862.68" y1="612.45" x2="867.58" y2="612.45" stroke="#1f2ef8" stroke-width="1.5"/>
<line x1="869.72" y1="615.12" x2="874.62" y2="615.12" stroke="#1f2ef8" stroke-width="1.5"/>
<line x1="876.75" y1="617.80" x2="881.65" y2="617.80" stroke="#1f2ef8" stroke-width="1.5"/>
<line x1="883.78" y1="618.60" x2="888.68" y2="618.60" stroke="#1f2ef8" stroke-width="1.5"/>
<line x1="890.82" y1="619.40" x2="895.72" y2="619.40" stroke="#1f2ef8" stroke-width="1.5"/>
<line x1="897.85" y1="618.90" x2="902.75" y2="618.90" stroke="#1f2ef8" stroke-width="1.5"/>
<line x1="904.89" y1="618.40" x2="909.79" y2="618.40" stroke="#1f2ef8" stroke-width="1.5"/>
<line x1="911.92" y1="615.63" x2="916.82" y2="615.63" stroke="#1f2ef8" stroke-width="1.5"/>
<line x1="918.96" y1="612.84" x2="923.86" y2="612.84" stroke="#1f2ef8" stroke-width="1.5"/>
<line x1="925.99" y1="609.62" x2="930.89" y2="609.62" stroke="#1f2ef8" stroke-width="1.5"/>
<line x1="933.03" y1="606.40" x2="937.93" y2="606.40" stroke="#1f2ef8" stroke-width="1.5"/>
<line x1="940.06" y1="605.83" x2="944.96" y2="605.83" stroke="#1f2ef8" stroke-width="1.5"/>
<line x1="947.10" y1="605.34" x2="952.00" y2="605.34" stroke="#1f2ef8" stroke-width="1.5"/>
<line x1="954.13" y1="604.81" x2="959.03" y2="604.81" stroke="#1f2ef8" stroke-width="1.5"/>
<line x1="961.17" y1="603.85" x2="966.07" y2="603.85" stroke="#1f2ef8" stroke-width="1.5"/>
<line x1="968.20" y1="602.88" x2="973.10" y2="602.88" stroke="#1f2ef8" stroke-width="1.5"/>
<line x1="975.24" y1="600.44" x2="980.14" y2="600.44" stroke="#1f2ef8" stroke-width="1.5"/>
<line x1="982.27" y1="597.69" x2="987.17" y2="597.69" stroke="#1f2ef8" stroke-width="1.5"/>
<line x1="989.31" y1="595.35" x2="994.21" y2="595.35" stroke="#1f2ef8" stroke-width="1.5"/>
<line x1="996.34" y1="593.03" x2="1001.24" y2="593.03" stroke="#1f2ef8" stroke-width="1.5"/>
<line x1="1003.38" y1="591.05" x2="1008.28" y2="591.05" stroke="#1f2ef8" stroke-width="1.5"/>
<line x1="1010.41" y1="589.00" x2="1015.31" y2="589.00" stroke="#1f2ef8" stroke-width="1.5"/>
<line x1="1017.45" y1="585.96" x2="1022.35" y2="585.96" stroke="#1f2ef8" stroke-width="1.5"/>
<line x1="1024.48" y1="582.89" x2="1029.38" y2="582.89" stroke="#1f2ef8" stroke-width="1.5"/>
<line x1="1031.52" y1="579.85" x2="1036.42" y2="579.85" stroke="#1f2ef8" stroke-width="1.5"/>
<line x1="1038.55" y1="582.60" x2="1043.45" y2="582.60" stroke="#1f2ef8" stroke-width="1.5"/>
<line x1="1045.59" y1="584.30" x2="1050.49" y2="584.30" stroke="#1f2ef8" stroke-width="1.5"/>
</g>
<rect x="4.7" y="578.8" width="68.9" height="19.1" fill="rgba(52,52,52,0.76)"/>
<rect x="4.7" y="578.8" width="2.2" height="19.1" fill="#33ee11"/>
<text x="15.600000000000001" y="593.0999999999999" font-size="10" font-weight="bold" fill="#fff">DMS (14)</text>
<line x1="1456.0" y1="600.1" x2="1460" y2="600.1" stroke="#999" stroke-width="1"/>
<text transform="translate(1462,603.80) scale(1,1.07)" font-size="9.75" fill="#5e5e5e" stroke="#5e5e5e" stroke-width="0.22">40.000</text>
<line x1="1456.0" y1="628.3" x2="1460" y2="628.3" stroke="#999" stroke-width="1"/>
<text transform="translate(1462,632.00) scale(1,1.07)" font-size="9.75" fill="#5e5e5e" stroke="#5e5e5e" stroke-width="0.22">20.000</text>
<line x1="28.0" y1="652.3" x2="28.0" y2="654" stroke="#888" stroke-width="1"/>
<text transform="translate(27.99,666.9) scale(1,1.08)" font-size="9.7" fill="#5e5e5e" stroke="#5e5e5e" stroke-width="0.22" text-anchor="middle">13</text>
<line x1="56.1" y1="652.3" x2="56.1" y2="654" stroke="#888" stroke-width="1"/>
<text transform="translate(56.13,666.9) scale(1,1.08)" font-size="9.7" fill="#5e5e5e" stroke="#5e5e5e" stroke-width="0.22" text-anchor="middle">17</text>
<line x1="84.3" y1="652.3" x2="84.3" y2="654" stroke="#888" stroke-width="1"/>
<text transform="translate(84.27,666.9) scale(1,1.08)" font-size="9.7" fill="#5e5e5e" stroke="#5e5e5e" stroke-width="0.22" text-anchor="middle">21</text>
<line x1="112.4" y1="652.3" x2="112.4" y2="654" stroke="#888" stroke-width="1"/>
<text transform="translate(112.41,666.9) scale(1,1.08)" font-size="9.7" fill="#5e5e5e" stroke="#5e5e5e" stroke-width="0.22" text-anchor="middle">25</text>
<line x1="140.5" y1="652.3" x2="140.5" y2="654" stroke="#888" stroke-width="1"/>
<text transform="translate(140.55,666.9) scale(1,1.08)" font-size="9.7" fill="#5e5e5e" stroke="#5e5e5e" stroke-width="0.22" text-anchor="middle">29</text>
<line x1="161.7" y1="652.3" x2="161.7" y2="654" stroke="#888" stroke-width="1"/>
<text transform="translate(161.65,666.9) scale(1,1.08)" font-size="9.7" fill="#5e5e5e" stroke="#5e5e5e" stroke-width="0.22" text-anchor="middle">Sep</text>
<line x1="189.8" y1="652.3" x2="189.8" y2="654" stroke="#888" stroke-width="1"/>
<text transform="translate(189.79,666.9) scale(1,1.08)" font-size="9.7" fill="#5e5e5e" stroke="#5e5e5e" stroke-width="0.22" text-anchor="middle">5</text>
<line x1="217.9" y1="652.3" x2="217.9" y2="654" stroke="#888" stroke-width="1"/>
<text transform="translate(217.93,666.9) scale(1,1.08)" font-size="9.7" fill="#5e5e5e" stroke="#5e5e5e" stroke-width="0.22" text-anchor="middle">9</text>
<line x1="246.1" y1="652.3" x2="246.1" y2="654" stroke="#888" stroke-width="1"/>
<text transform="translate(246.07,666.9) scale(1,1.08)" font-size="9.7" fill="#5e5e5e" stroke="#5e5e5e" stroke-width="0.22" text-anchor="middle">13</text>
<line x1="274.2" y1="652.3" x2="274.2" y2="654" stroke="#888" stroke-width="1"/>
<text transform="translate(274.21,666.9) scale(1,1.08)" font-size="9.7" fill="#5e5e5e" stroke="#5e5e5e" stroke-width="0.22" text-anchor="middle">17</text>
<line x1="302.3" y1="652.3" x2="302.3" y2="654" stroke="#888" stroke-width="1"/>
<text transform="translate(302.35,666.9) scale(1,1.08)" font-size="9.7" fill="#5e5e5e" stroke="#5e5e5e" stroke-width="0.22" text-anchor="middle">21</text>
<line x1="330.5" y1="652.3" x2="330.5" y2="654" stroke="#888" stroke-width="1"/>
<text transform="translate(330.49,666.9) scale(1,1.08)" font-size="9.7" fill="#5e5e5e" stroke="#5e5e5e" stroke-width="0.22" text-anchor="middle">25</text>
<line x1="372.7" y1="652.3" x2="372.7" y2="654" stroke="#888" stroke-width="1"/>
<text transform="translate(372.69,666.9) scale(1,1.08)" font-size="9.7" fill="#5e5e5e" stroke="#5e5e5e" stroke-width="0.22" text-anchor="middle">Oct</text>
<line x1="400.8" y1="652.3" x2="400.8" y2="654" stroke="#888" stroke-width="1"/>
<text transform="translate(400.83,666.9) scale(1,1.08)" font-size="9.7" fill="#5e5e5e" stroke="#5e5e5e" stroke-width="0.22" text-anchor="middle">5</text>
<line x1="429.0" y1="652.3" x2="429.0" y2="654" stroke="#888" stroke-width="1"/>
<text transform="translate(428.97,666.9) scale(1,1.08)" font-size="9.7" fill="#5e5e5e" stroke="#5e5e5e" stroke-width="0.22" text-anchor="middle">9</text>
<line x1="457.1" y1="652.3" x2="457.1" y2="654" stroke="#888" stroke-width="1"/>
<text transform="translate(457.11,666.9) scale(1,1.08)" font-size="9.7" fill="#5e5e5e" stroke="#5e5e5e" stroke-width="0.22" text-anchor="middle">13</text>
<line x1="485.3" y1="652.3" x2="485.3" y2="654" stroke="#888" stroke-width="1"/>
<text transform="translate(485.25,666.9) scale(1,1.08)" font-size="9.7" fill="#5e5e5e" stroke="#5e5e5e" stroke-width="0.22" text-anchor="middle">17</text>
<line x1="513.4" y1="652.3" x2="513.4" y2="654" stroke="#888" stroke-width="1"/>
<text transform="translate(513.39,666.9) scale(1,1.08)" font-size="9.7" fill="#5e5e5e" stroke="#5e5e5e" stroke-width="0.22" text-anchor="middle">21</text>
<line x1="541.5" y1="652.3" x2="541.5" y2="654" stroke="#888" stroke-width="1"/>
<text transform="translate(541.53,666.9) scale(1,1.08)" font-size="9.7" fill="#5e5e5e" stroke="#5e5e5e" stroke-width="0.22" text-anchor="middle">25</text>
<line x1="569.7" y1="652.3" x2="569.7" y2="654" stroke="#888" stroke-width="1"/>
<text transform="translate(569.67,666.9) scale(1,1.08)" font-size="9.7" fill="#5e5e5e" stroke="#5e5e5e" stroke-width="0.22" text-anchor="middle">29</text>
<line x1="590.8" y1="652.3" x2="590.8" y2="654" stroke="#888" stroke-width="1"/>
<text transform="translate(590.77,666.9) scale(1,1.08)" font-size="9.7" fill="#5e5e5e" stroke="#5e5e5e" stroke-width="0.22" text-anchor="middle">Nov</text>
<line x1="618.9" y1="652.3" x2="618.9" y2="654" stroke="#888" stroke-width="1"/>
<text transform="translate(618.91,666.9) scale(1,1.08)" font-size="9.7" fill="#5e5e5e" stroke="#5e5e5e" stroke-width="0.22" text-anchor="middle">5</text>
<line x1="647.1" y1="652.3" x2="647.1" y2="654" stroke="#888" stroke-width="1"/>
<text transform="translate(647.05,666.9) scale(1,1.08)" font-size="9.7" fill="#5e5e5e" stroke="#5e5e5e" stroke-width="0.22" text-anchor="middle">9</text>
<line x1="675.2" y1="652.3" x2="675.2" y2="654" stroke="#888" stroke-width="1"/>
<text transform="translate(675.19,666.9) scale(1,1.08)" font-size="9.7" fill="#5e5e5e" stroke="#5e5e5e" stroke-width="0.22" text-anchor="middle">13</text>
<line x1="703.3" y1="652.3" x2="703.3" y2="654" stroke="#888" stroke-width="1"/>
<text transform="translate(703.33,666.9) scale(1,1.08)" font-size="9.7" fill="#5e5e5e" stroke="#5e5e5e" stroke-width="0.22" text-anchor="middle">17</text>
<line x1="731.5" y1="652.3" x2="731.5" y2="654" stroke="#888" stroke-width="1"/>
<text transform="translate(731.47,666.9) scale(1,1.08)" font-size="9.7" fill="#5e5e5e" stroke="#5e5e5e" stroke-width="0.22" text-anchor="middle">21</text>
<line x1="759.6" y1="652.3" x2="759.6" y2="654" stroke="#888" stroke-width="1"/>
<text transform="translate(759.61,666.9) scale(1,1.08)" font-size="9.7" fill="#5e5e5e" stroke="#5e5e5e" stroke-width="0.22" text-anchor="middle">25</text>
<line x1="801.8" y1="652.3" x2="801.8" y2="654" stroke="#888" stroke-width="1"/>
<text transform="translate(801.82,666.9) scale(1,1.08)" font-size="9.7" fill="#5e5e5e" stroke="#5e5e5e" stroke-width="0.22" text-anchor="middle">Dec</text>
<line x1="830.0" y1="652.3" x2="830.0" y2="654" stroke="#888" stroke-width="1"/>
<text transform="translate(829.96,666.9) scale(1,1.08)" font-size="9.7" fill="#5e5e5e" stroke="#5e5e5e" stroke-width="0.22" text-anchor="middle">5</text>
<line x1="858.1" y1="652.3" x2="858.1" y2="654" stroke="#888" stroke-width="1"/>
<text transform="translate(858.10,666.9) scale(1,1.08)" font-size="9.7" fill="#5e5e5e" stroke="#5e5e5e" stroke-width="0.22" text-anchor="middle">9</text>
<line x1="886.2" y1="652.3" x2="886.2" y2="654" stroke="#888" stroke-width="1"/>
<text transform="translate(886.23,666.9) scale(1,1.08)" font-size="9.7" fill="#5e5e5e" stroke="#5e5e5e" stroke-width="0.22" text-anchor="middle">13</text>
<line x1="914.4" y1="652.3" x2="914.4" y2="654" stroke="#888" stroke-width="1"/>
<text transform="translate(914.37,666.9) scale(1,1.08)" font-size="9.7" fill="#5e5e5e" stroke="#5e5e5e" stroke-width="0.22" text-anchor="middle">17</text>
<line x1="942.5" y1="652.3" x2="942.5" y2="654" stroke="#888" stroke-width="1"/>
<text transform="translate(942.51,666.9) scale(1,1.08)" font-size="9.7" fill="#5e5e5e" stroke="#5e5e5e" stroke-width="0.22" text-anchor="middle">21</text>
<line x1="970.7" y1="652.3" x2="970.7" y2="654" stroke="#888" stroke-width="1"/>
<text transform="translate(970.65,666.9) scale(1,1.08)" font-size="9.7" fill="#5e5e5e" stroke="#5e5e5e" stroke-width="0.22" text-anchor="middle">25</text>
<line x1="998.8" y1="652.3" x2="998.8" y2="654" stroke="#888" stroke-width="1"/>
<text transform="translate(998.79,666.9) scale(1,1.08)" font-size="9.7" fill="#5e5e5e" stroke="#5e5e5e" stroke-width="0.22" text-anchor="middle">29</text>
<line x1="1019.9" y1="652.3" x2="1019.9" y2="654" stroke="#888" stroke-width="1"/>
<text transform="translate(1019.90,666.9) scale(1,1.08)" font-size="9.7" fill="#5e5e5e" stroke="#5e5e5e" stroke-width="0.22" text-anchor="middle">Jan</text>
<line x1="1048.0" y1="652.3" x2="1048.0" y2="654" stroke="#888" stroke-width="1"/>
<text transform="translate(1048.04,666.9) scale(1,1.08)" font-size="9.7" fill="#5e5e5e" stroke="#5e5e5e" stroke-width="0.22" text-anchor="middle">5</text>
<line x1="1076.2" y1="652.3" x2="1076.2" y2="654" stroke="#888" stroke-width="1"/>
<text transform="translate(1076.17,666.9) scale(1,1.08)" font-size="9.7" fill="#5e5e5e" stroke="#5e5e5e" stroke-width="0.22" text-anchor="middle">9</text>
<line x1="1104.3" y1="652.3" x2="1104.3" y2="654" stroke="#888" stroke-width="1"/>
<text transform="translate(1104.31,666.9) scale(1,1.08)" font-size="9.7" fill="#5e5e5e" stroke="#5e5e5e" stroke-width="0.22" text-anchor="middle">13</text>
<line x1="1132.5" y1="652.3" x2="1132.5" y2="654" stroke="#888" stroke-width="1"/>
<text transform="translate(1132.45,666.9) scale(1,1.08)" font-size="9.7" fill="#5e5e5e" stroke="#5e5e5e" stroke-width="0.22" text-anchor="middle">17</text>
<line x1="1160.6" y1="652.3" x2="1160.6" y2="654" stroke="#888" stroke-width="1"/>
<text transform="translate(1160.59,666.9) scale(1,1.08)" font-size="9.7" fill="#5e5e5e" stroke="#5e5e5e" stroke-width="0.22" text-anchor="middle">21</text>
<line x1="1188.7" y1="652.3" x2="1188.7" y2="654" stroke="#888" stroke-width="1"/>
<text transform="translate(1188.73,666.9) scale(1,1.08)" font-size="9.7" fill="#5e5e5e" stroke="#5e5e5e" stroke-width="0.22" text-anchor="middle">25</text>
<line x1="1216.9" y1="652.3" x2="1216.9" y2="654" stroke="#888" stroke-width="1"/>
<text transform="translate(1216.87,666.9) scale(1,1.08)" font-size="9.7" fill="#5e5e5e" stroke="#5e5e5e" stroke-width="0.22" text-anchor="middle">29</text>
<line x1="1238.0" y1="652.3" x2="1238.0" y2="654" stroke="#888" stroke-width="1"/>
<text transform="translate(1237.97,666.9) scale(1,1.08)" font-size="9.7" fill="#5e5e5e" stroke="#5e5e5e" stroke-width="0.22" text-anchor="middle">Feb</text>
<line x1="1266.1" y1="652.3" x2="1266.1" y2="654" stroke="#888" stroke-width="1"/>
<text transform="translate(1266.11,666.9) scale(1,1.08)" font-size="9.7" fill="#5e5e5e" stroke="#5e5e5e" stroke-width="0.22" text-anchor="middle">5</text>
<line x1="1294.3" y1="652.3" x2="1294.3" y2="654" stroke="#888" stroke-width="1"/>
<text transform="translate(1294.25,666.9) scale(1,1.08)" font-size="9.7" fill="#5e5e5e" stroke="#5e5e5e" stroke-width="0.22" text-anchor="middle">9</text>
<line x1="1322.4" y1="652.3" x2="1322.4" y2="654" stroke="#888" stroke-width="1"/>
<text transform="translate(1322.39,666.9) scale(1,1.08)" font-size="9.7" fill="#5e5e5e" stroke="#5e5e5e" stroke-width="0.22" text-anchor="middle">13</text>
<line x1="1350.5" y1="652.3" x2="1350.5" y2="654" stroke="#888" stroke-width="1"/>
<text transform="translate(1350.53,666.9) scale(1,1.08)" font-size="9.7" fill="#5e5e5e" stroke="#5e5e5e" stroke-width="0.22" text-anchor="middle">17</text>
<line x1="1378.7" y1="652.3" x2="1378.7" y2="654" stroke="#888" stroke-width="1"/>
<text transform="translate(1378.67,666.9) scale(1,1.08)" font-size="9.7" fill="#5e5e5e" stroke="#5e5e5e" stroke-width="0.22" text-anchor="middle">21</text>
<line x1="1406.8" y1="652.3" x2="1406.8" y2="654" stroke="#888" stroke-width="1"/>
<text transform="translate(1406.81,666.9) scale(1,1.08)" font-size="9.7" fill="#5e5e5e" stroke="#5e5e5e" stroke-width="0.22" text-anchor="middle">25</text>
<line x1="1434.9" y1="652.3" x2="1434.9" y2="654" stroke="#888" stroke-width="1"/>
<text transform="translate(1434.95,666.9) scale(1,1.08)" font-size="9.7" fill="#5e5e5e" stroke="#5e5e5e" stroke-width="0.22" text-anchor="middle">Mar</text>
<line x1="0.5" y1="652.3" x2="0.5" y2="654" stroke="#888" stroke-width="1"/>
<text transform="translate(0,666.9) scale(1,1.08)" font-size="9.7" fill="#5e5e5e" stroke="#5e5e5e" stroke-width="0.22">Aug</text>
</svg></body></html>
